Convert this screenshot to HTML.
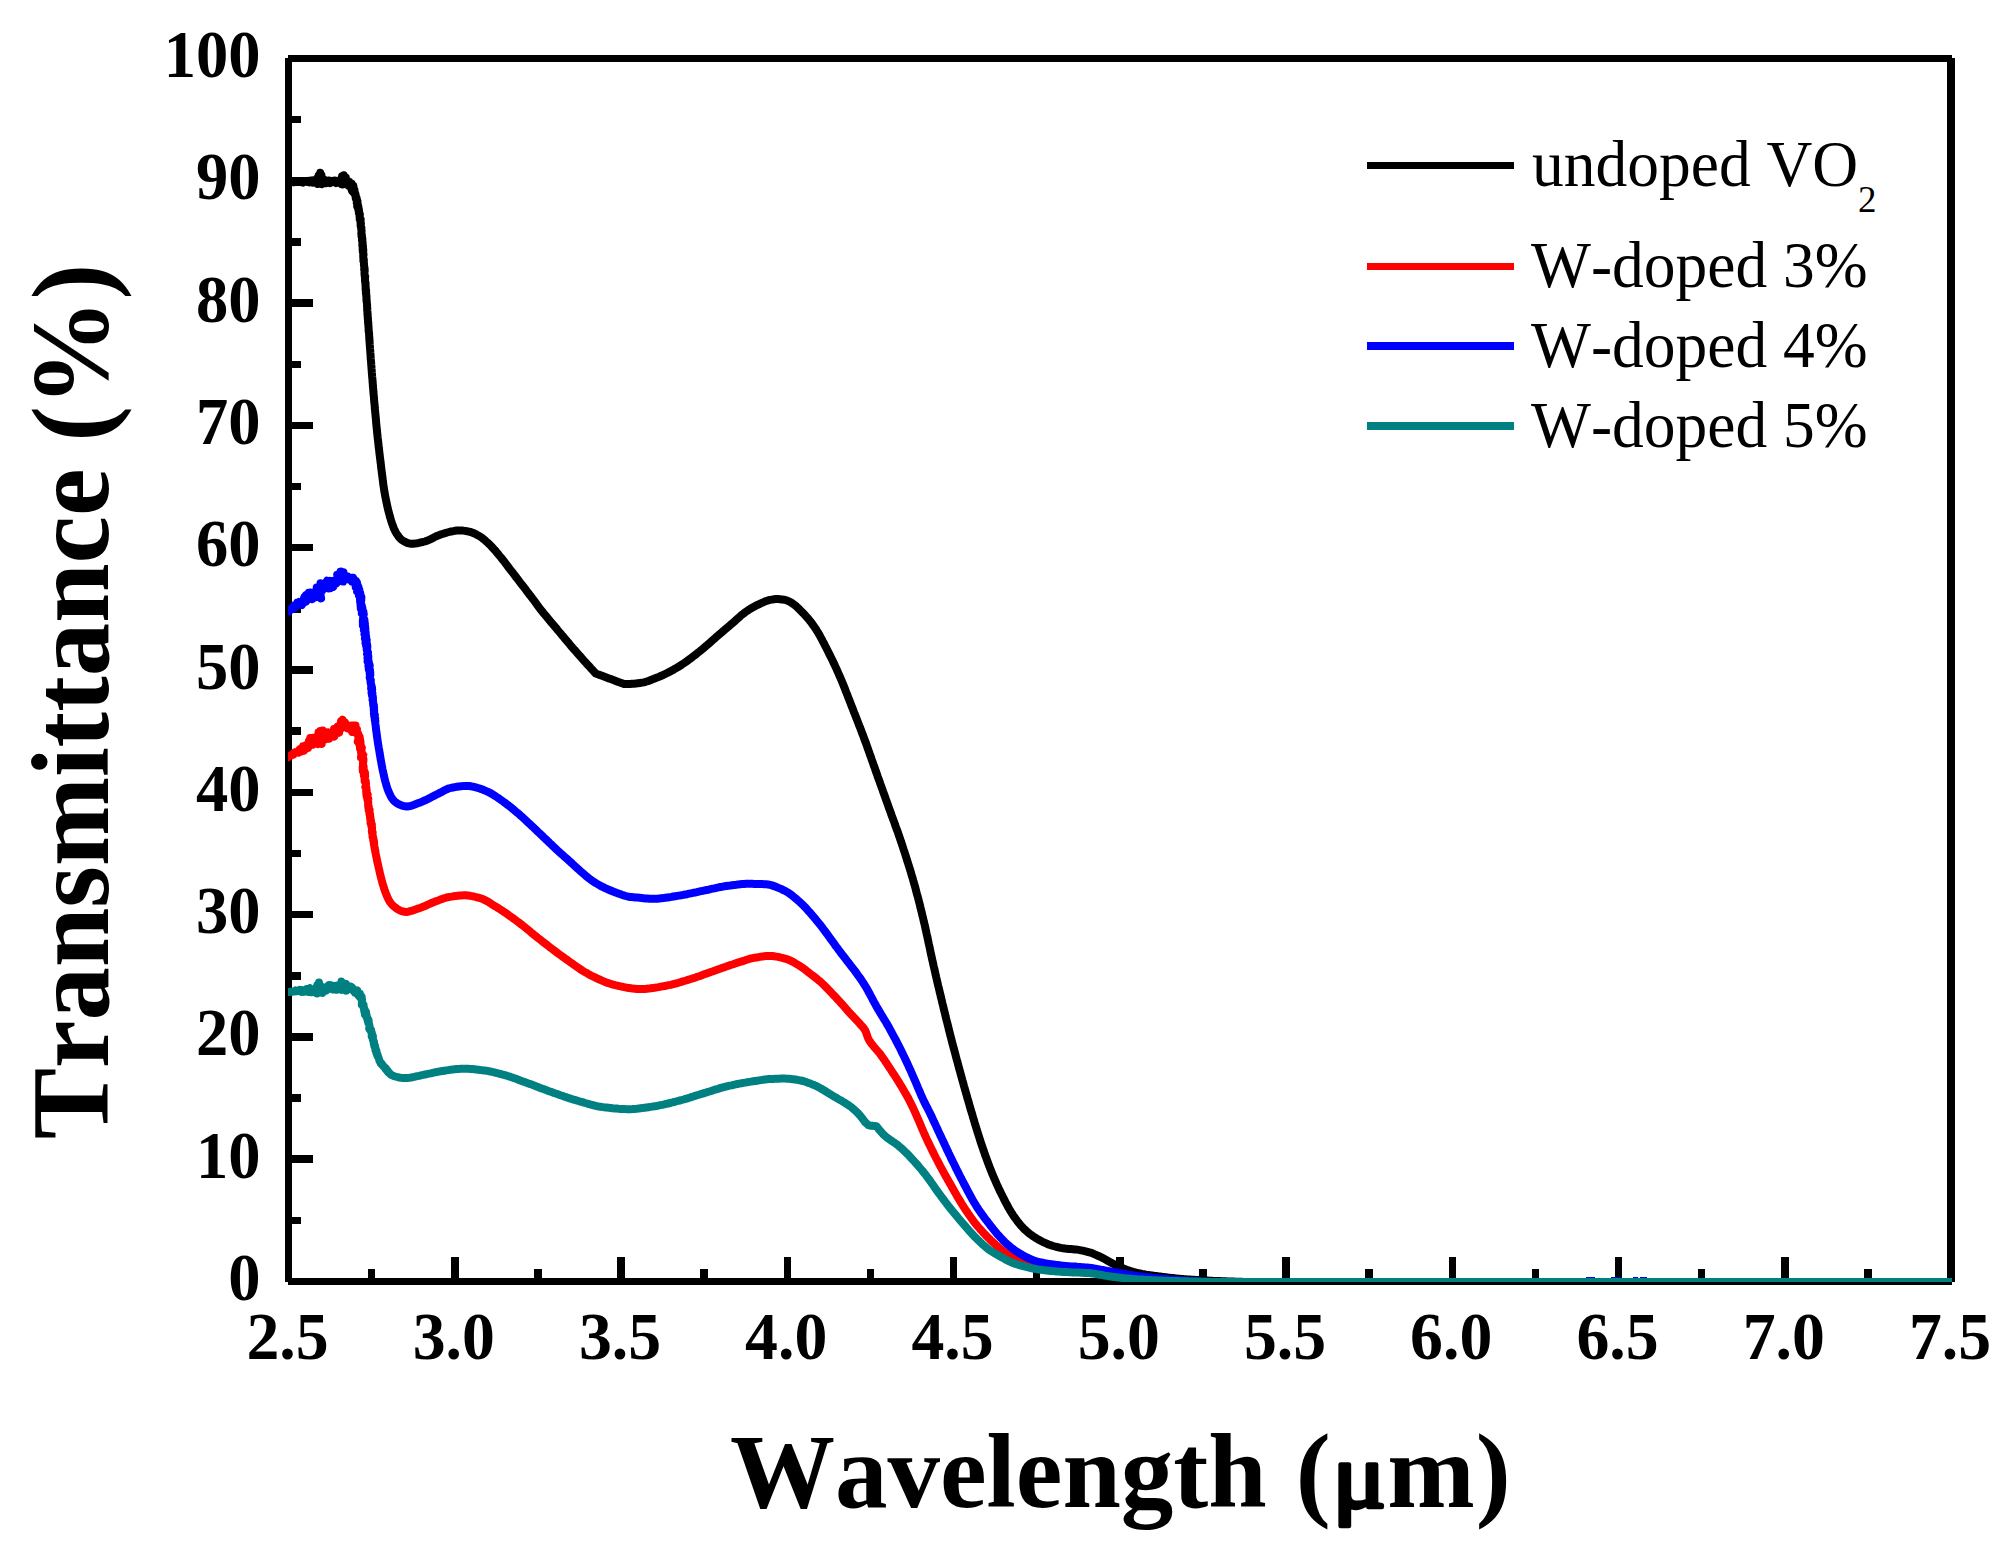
<!DOCTYPE html>
<html lang="en">
<head>
<meta charset="utf-8">
<title>Transmittance vs Wavelength</title>
<style>html,body{margin:0;padding:0;background:#fff}svg{display:block}</style>
</head>
<body>
<svg width="2013" height="1548" viewBox="0 0 2013 1548">
<defs><clipPath id="plot"><rect x="288" y="58" width="1664" height="1224"/></clipPath></defs>
<rect width="2013" height="1548" fill="#fff"/>
<g fill="#000" shape-rendering="crispEdges">
<rect x="285" y="58" width="7" height="1224"/>
<rect x="288" y="55" width="1664" height="7"/>
<rect x="1947" y="58" width="8" height="1224"/>
<rect x="288" y="1278" width="1664" height="7"/>
<rect x="367.88" y="1269" width="7.5" height="10"/>
<rect x="451.00" y="1257" width="7.5" height="22"/>
<rect x="534.12" y="1269" width="7.5" height="10"/>
<rect x="617.25" y="1257" width="7.5" height="22"/>
<rect x="700.38" y="1269" width="7.5" height="10"/>
<rect x="783.50" y="1257" width="7.5" height="22"/>
<rect x="866.62" y="1269" width="7.5" height="10"/>
<rect x="949.75" y="1257" width="7.5" height="22"/>
<rect x="1032.88" y="1269" width="7.5" height="10"/>
<rect x="1116.00" y="1257" width="7.5" height="22"/>
<rect x="1199.12" y="1269" width="7.5" height="10"/>
<rect x="1282.25" y="1257" width="7.5" height="22"/>
<rect x="1365.38" y="1269" width="7.5" height="10"/>
<rect x="1448.50" y="1257" width="7.5" height="22"/>
<rect x="1531.62" y="1269" width="7.5" height="10"/>
<rect x="1614.75" y="1257" width="7.5" height="22"/>
<rect x="1697.88" y="1269" width="7.5" height="10"/>
<rect x="1781.00" y="1257" width="7.5" height="22"/>
<rect x="1864.12" y="1269" width="7.5" height="10"/>
<rect x="291" y="1216.60" width="10" height="7.5"/>
<rect x="291" y="1155.45" width="22" height="7.5"/>
<rect x="291" y="1094.30" width="10" height="7.5"/>
<rect x="291" y="1033.15" width="22" height="7.5"/>
<rect x="291" y="972.00" width="10" height="7.5"/>
<rect x="291" y="910.85" width="22" height="7.5"/>
<rect x="291" y="849.70" width="10" height="7.5"/>
<rect x="291" y="788.55" width="22" height="7.5"/>
<rect x="291" y="727.40" width="10" height="7.5"/>
<rect x="291" y="666.25" width="22" height="7.5"/>
<rect x="291" y="605.10" width="10" height="7.5"/>
<rect x="291" y="543.95" width="22" height="7.5"/>
<rect x="291" y="482.80" width="10" height="7.5"/>
<rect x="291" y="421.65" width="22" height="7.5"/>
<rect x="291" y="360.50" width="10" height="7.5"/>
<rect x="291" y="299.35" width="22" height="7.5"/>
<rect x="291" y="238.20" width="10" height="7.5"/>
<rect x="291" y="177.05" width="22" height="7.5"/>
<rect x="291" y="115.90" width="10" height="7.5"/>
</g>
<g clip-path="url(#plot)" fill="none" stroke-width="8" stroke-linejoin="round" stroke-linecap="butt">
<path stroke="#000000" d="M287.0 181.9L287.8 182.0L288.6 182.0L289.4 181.9L290.2 181.9L291.0 182.1L291.9 181.9L292.6 181.9L293.5 182.3L294.2 182.1L295.1 181.9L295.9 182.0L296.5 182.1L297.5 181.7L298.1 181.4L299.0 182.1L299.9 181.9L300.5 181.7L301.2 182.2L302.4 181.8L303.0 182.5L303.6 181.2L304.5 181.8L305.3 181.6L306.5 181.4L307.0 181.8L308.1 181.0L308.6 182.3L309.8 182.4L310.6 180.6L311.1 181.4L312.1 180.9L312.4 180.4L313.0 182.6L314.3 181.4L314.5 180.2L315.8 182.4L316.7 178.9L317.7 184.0L318.6 175.5L318.7 182.7L320.2 172.8L320.6 183.8L321.5 175.3L322.2 184.3L323.4 179.7L323.6 181.6L324.1 179.7L325.8 180.8L326.4 183.2L327.3 181.8L327.4 182.5L328.3 180.6L329.6 180.6L330.5 183.0L331.2 182.3L332.0 181.4L332.8 181.5L333.1 180.8L334.2 181.0L334.9 180.6L336.1 183.0L336.7 181.9L337.7 180.9L338.5 182.7L339.5 180.9L340.2 180.8L340.2 180.9L341.6 184.0L342.1 176.2L342.6 184.6L343.8 175.3L345.0 182.4L345.8 177.5L345.8 182.8L346.7 182.0L348.0 184.6L349.0 183.0L348.8 185.8L349.4 181.6L350.6 187.5L351.1 184.2L351.9 190.6L351.7 183.8L352.5 190.0L353.3 185.7L353.2 191.9L353.5 186.8L353.4 190.9L354.5 189.8L354.4 192.6L354.5 193.0L355.1 195.2L355.5 193.7L355.7 196.2L355.4 195.8L355.9 197.9L355.8 198.2L356.5 197.4L356.6 198.7L356.6 198.5L356.9 199.5L356.8 201.5L357.0 202.1L356.8 202.7L357.5 201.1L357.2 202.8L357.6 203.0L357.2 206.1L357.8 204.5L358.1 205.6L358.3 206.7L358.4 206.7L358.2 209.6L358.8 209.8L358.9 209.4L359.0 211.1L358.9 210.9L358.9 213.0L359.4 212.9L359.0 213.2L359.9 214.3L359.6 216.2L359.6 217.2L359.9 217.3L359.7 218.9L360.5 219.0L360.7 219.3L360.6 220.5L360.5 221.6L360.9 223.6L360.5 222.6L360.7 223.4L360.6 225.3L360.9 227.1L361.4 227.8L361.2 228.1L361.2 227.4L361.3 229.8L361.5 230.3L361.5 229.9L361.5 231.4L361.6 231.2L361.3 233.6L361.7 234.3L361.9 235.3L361.6 236.0L361.8 235.8L362.2 237.7L361.8 237.4L361.9 238.0L362.4 239.3L362.0 240.4L362.2 240.8L362.6 242.2L362.4 243.0L362.7 243.1L362.7 244.7L362.3 245.0L362.5 246.4L363.0 246.3L362.7 248.0L362.8 248.0L363.2 249.0L362.7 249.9L363.3 250.4L363.2 250.7L363.2 252.8L362.9 252.0L363.3 253.3L363.5 254.5L363.3 254.4L363.2 255.4L363.3 257.4L363.3 258.2L363.6 258.8L363.9 260.1L363.5 260.7L363.7 260.8L363.8 262.3L363.9 262.6L364.0 264.1L364.0 264.2L363.9 264.6L364.3 266.5L364.2 267.0L364.2 267.8L364.6 268.3L364.5 269.4L364.2 269.7L364.7 270.6L364.6 270.7L364.5 272.2L364.5 273.4L364.5 274.0L364.6 275.0L364.7 275.3L364.8 276.7L365.2 276.4L365.0 278.3L364.9 278.4L365.0 278.8L365.1 280.3L365.0 280.9L365.2 281.6L365.3 283.0L365.6 282.9L365.4 284.3L365.6 284.8L365.6 285.8L365.5 286.5L365.7 286.9L365.7 288.2L365.6 289.4L365.6 289.4L366.1 290.0L365.8 290.9L366.2 292.1L366.0 293.6L365.9 293.3L366.4 295.2L366.3 295.5L366.2 295.8L366.5 296.9L366.5 297.5L366.4 298.9L366.6 299.5L366.7 300.0L366.5 300.7L366.8 302.2L366.9 302.8L366.9 303.3L367.0 304.0L367.1 305.1L367.1 306.2L367.0 306.1L367.1 307.0L367.2 308.0L367.3 308.9L367.1 309.3L367.2 310.1L367.3 311.0L367.5 312.0L367.4 313.1L367.5 313.8L367.7 314.0L367.5 314.8L367.7 316.0L367.7 317.2L367.7 318.0L368.0 318.3L367.9 319.5L368.0 320.3L368.0 320.7L368.0 321.7L368.3 322.2L368.1 322.8L368.2 324.0L368.4 324.4L368.4 325.7L368.5 326.7L368.5 327.6L368.6 328.0L368.6 328.6L368.7 330.0L368.6 330.7L368.7 331.5L368.9 332.0L369.0 332.9L369.1 333.4L369.1 334.0L369.1 334.9L369.2 336.0L369.2 336.5L369.3 337.6L369.4 338.3L369.3 339.0L369.4 340.2L369.6 340.4L369.5 341.5L369.6 342.3L369.7 344.3L369.9 346.3L370.0 348.3L370.2 350.3L370.3 352.3L370.5 354.3L370.6 356.3L370.7 358.3L370.9 360.3L371.1 362.3L371.2 364.3L371.4 366.3L371.5 368.3L371.7 370.3L371.8 372.3L372.0 374.3L372.1 376.3L372.3 378.2L372.5 380.2L372.6 382.2L372.8 384.2L372.9 386.2L373.1 388.2L373.3 390.2L373.4 392.2L373.6 394.2L373.8 396.2L374.0 398.2L374.1 400.2L374.3 402.2L374.5 404.2L374.7 406.1L374.8 408.1L375.0 410.1L375.2 412.1L375.4 414.1L375.6 416.1L375.8 418.1L376.0 420.1L376.1 422.1L376.3 424.1L376.5 426.1L376.7 428.1L376.9 430.0L377.1 432.0L377.3 434.0L377.5 436.0L377.7 438.0L378.0 440.0L378.2 442.0L378.4 444.0L378.6 446.0L378.8 447.9L379.1 449.9L379.3 451.9L379.5 453.9L379.8 455.9L380.0 457.9L380.3 459.9L380.5 461.8L380.8 463.8L381.0 465.8L381.2 467.8L381.5 469.8L381.7 471.8L382.0 473.8L382.2 475.7L382.5 477.7L382.7 479.7L383.0 481.7L383.2 483.7L383.5 485.7L383.8 487.6L384.1 489.6L384.4 491.6L384.8 493.6L385.1 495.5L385.5 497.5L385.9 499.5L386.3 501.4L386.7 503.4L387.1 505.3L387.5 507.3L388.0 509.2L388.5 511.2L389.0 513.1L389.5 515.0L390.0 517.0L390.6 518.9L391.2 520.9L391.8 522.8L392.5 524.7L393.2 526.6L393.9 528.5L394.8 530.3L395.6 532.0L396.6 533.7L397.8 535.4L399.0 537.1L400.4 538.7L401.9 540.0L403.4 541.0L405.2 541.9L407.1 542.8L409.1 543.4L411.0 543.8L413.0 543.8L415.0 543.6L417.0 543.3L418.9 542.9L420.9 542.4L422.9 542.0L424.8 541.5L426.7 540.9L428.5 540.1L430.3 539.3L432.1 538.4L433.9 537.4L435.8 536.5L437.6 535.7L439.5 535.0L441.3 534.3L443.2 533.7L445.2 533.1L447.1 532.5L449.0 532.0L451.0 531.5L452.9 531.2L454.9 530.8L456.9 530.5L458.9 530.4L460.9 530.5L462.9 530.6L464.9 530.9L466.9 531.2L468.8 531.6L470.7 532.0L472.6 532.7L474.5 533.5L476.3 534.4L478.1 535.4L479.8 536.4L481.4 537.4L483.0 538.7L484.6 539.9L486.1 541.3L487.6 542.7L489.0 544.0L490.5 545.4L491.8 546.9L493.2 548.3L494.5 549.8L495.9 551.3L497.1 552.9L498.4 554.4L499.7 556.0L501.0 557.5L502.2 559.1L503.5 560.6L504.7 562.2L505.9 563.8L507.1 565.4L508.3 567.0L509.5 568.6L510.7 570.2L512.0 571.8L513.2 573.3L514.4 574.9L515.6 576.5L516.8 578.1L518.1 579.7L519.3 581.3L520.5 582.9L521.7 584.4L522.9 586.0L524.2 587.6L525.4 589.2L526.6 590.8L527.8 592.4L529.0 594.0L530.2 595.6L531.4 597.1L532.6 598.7L533.9 600.3L535.1 601.9L536.2 603.5L537.4 605.2L538.6 606.8L539.8 608.4L541.0 609.9L542.3 611.5L543.5 613.1L544.8 614.6L546.1 616.2L547.4 617.7L548.6 619.2L549.9 620.8L551.2 622.3L552.5 623.8L553.8 625.4L555.1 626.9L556.4 628.4L557.6 630.0L558.9 631.5L560.2 633.0L561.5 634.6L562.8 636.1L564.0 637.6L565.3 639.2L566.6 640.7L567.9 642.2L569.2 643.7L570.5 645.3L571.8 646.8L573.1 648.3L574.4 649.8L575.8 651.3L577.1 652.8L578.4 654.3L579.7 655.8L581.1 657.3L582.4 658.8L583.7 660.3L585.0 661.8L586.4 663.3L587.7 664.8L589.1 666.2L590.4 667.7L591.8 669.2L593.1 670.7L594.4 672.2L595.8 673.6L597.7 674.3L599.6 674.9L601.4 675.6L603.3 676.3L605.2 677.0L607.1 677.7L608.9 678.4L610.8 679.1L612.7 679.8L614.6 680.5L616.4 681.2L618.3 681.9L620.2 682.6L622.1 683.2L624.0 683.9L625.9 684.1L627.9 684.1L630.0 684.0L632.0 683.8L634.0 683.7L636.0 683.5L637.9 683.3L639.9 683.1L641.8 682.7L643.8 682.3L645.7 681.8L647.6 681.2L649.5 680.6L651.4 679.8L653.3 679.1L655.2 678.3L657.1 677.6L658.9 676.8L660.7 676.0L662.6 675.2L664.4 674.4L666.2 673.5L668.0 672.6L669.8 671.7L671.5 670.7L673.3 669.8L675.0 668.7L676.8 667.7L678.5 666.7L680.2 665.7L681.8 664.6L683.5 663.5L685.2 662.4L686.8 661.2L688.4 660.0L690.0 658.9L691.6 657.7L693.2 656.4L694.8 655.2L696.4 654.0L698.0 652.7L699.5 651.5L701.1 650.2L702.6 649.0L704.1 647.7L705.6 646.3L707.2 645.0L708.7 643.7L710.2 642.4L711.7 641.1L713.2 639.7L714.7 638.4L716.2 637.1L717.7 635.8L719.2 634.5L720.7 633.2L722.2 631.9L723.8 630.6L725.3 629.3L726.8 628.0L728.3 626.7L729.8 625.4L731.3 624.1L732.9 622.8L734.4 621.5L735.9 620.1L737.4 618.8L738.9 617.5L740.4 616.1L741.9 614.8L743.5 613.6L745.1 612.3L746.7 611.2L748.3 610.1L750.0 609.0L751.7 608.0L753.5 607.0L755.2 606.1L757.0 605.2L758.8 604.3L760.7 603.4L762.5 602.6L764.3 601.8L766.2 601.1L768.1 600.4L770.0 599.9L772.0 599.6L774.0 599.3L776.0 599.1L778.0 599.1L780.0 599.2L782.0 599.4L783.9 599.7L785.9 600.1L787.8 600.9L789.6 601.7L791.3 602.6L792.9 603.7L794.5 604.9L796.1 606.2L797.6 607.6L799.1 609.0L800.5 610.5L801.9 611.9L803.3 613.3L804.7 614.8L806.0 616.2L807.3 617.8L808.7 619.3L809.9 620.9L811.2 622.4L812.4 624.1L813.5 625.7L814.7 627.3L815.8 628.9L816.8 630.6L817.9 632.3L818.9 634.1L819.9 635.8L820.8 637.5L821.8 639.3L822.7 641.1L823.7 642.9L824.6 644.7L825.5 646.5L826.4 648.2L827.3 650.0L828.2 651.8L829.1 653.6L830.0 655.4L830.9 657.2L831.8 659.0L832.7 660.8L833.5 662.6L834.4 664.4L835.2 666.2L836.1 668.0L836.9 669.8L837.7 671.7L838.5 673.5L839.3 675.3L840.1 677.1L840.9 679.0L841.7 680.8L842.4 682.7L843.2 684.5L843.9 686.4L844.7 688.2L845.4 690.1L846.1 692.0L846.9 693.8L847.6 695.7L848.3 697.6L849.0 699.4L849.8 701.3L850.5 703.2L851.2 705.0L851.9 706.9L852.7 708.7L853.4 710.6L854.1 712.5L854.9 714.3L855.6 716.2L856.3 718.1L857.1 719.9L857.8 721.8L858.5 723.6L859.2 725.5L860.0 727.4L860.7 729.2L861.4 731.1L862.1 733.0L862.8 734.8L863.5 736.7L864.2 738.6L864.9 740.5L865.6 742.3L866.3 744.2L867.0 746.1L867.6 748.0L868.3 749.9L869.0 751.8L869.6 753.6L870.3 755.5L871.0 757.4L871.6 759.3L872.3 761.2L873.0 763.1L873.6 765.0L874.3 766.8L875.0 768.7L875.6 770.6L876.3 772.5L877.0 774.4L877.6 776.3L878.3 778.2L879.0 780.0L879.7 781.9L880.3 783.8L881.0 785.7L881.7 787.6L882.4 789.4L883.0 791.3L883.7 793.2L884.4 795.1L885.1 797.0L885.7 798.9L886.4 800.7L887.1 802.6L887.8 804.5L888.4 806.4L889.1 808.3L889.8 810.2L890.5 812.0L891.1 813.9L891.8 815.8L892.5 817.7L893.2 819.6L893.9 821.4L894.6 823.3L895.2 825.2L895.9 827.1L896.6 829.0L897.3 830.8L898.0 832.7L898.6 834.6L899.3 836.5L899.9 838.4L900.6 840.3L901.2 842.2L901.9 844.1L902.5 846.0L903.1 847.9L903.7 849.8L904.4 851.7L905.0 853.6L905.6 855.5L906.2 857.4L906.8 859.3L907.4 861.2L908.0 863.1L908.6 865.0L909.2 866.9L909.8 868.8L910.4 870.7L911.0 872.7L911.5 874.6L912.1 876.5L912.7 878.4L913.2 880.3L913.8 882.3L914.3 884.2L914.9 886.1L915.4 888.0L915.9 890.0L916.4 891.9L916.9 893.8L917.5 895.8L918.0 897.7L918.5 899.6L919.0 901.6L919.5 903.5L920.0 905.4L920.4 907.4L920.9 909.3L921.4 911.3L921.9 913.2L922.3 915.2L922.8 917.1L923.3 919.1L923.7 921.0L924.2 922.9L924.7 924.9L925.1 926.8L925.5 928.8L926.0 930.7L926.4 932.7L926.8 934.6L927.3 936.6L927.7 938.6L928.1 940.5L928.5 942.5L928.9 944.4L929.4 946.4L929.8 948.3L930.2 950.3L930.6 952.3L931.0 954.2L931.5 956.2L931.9 958.1L932.3 960.1L932.8 962.0L933.2 964.0L933.6 965.9L934.1 967.9L934.5 969.8L935.0 971.8L935.4 973.7L935.9 975.7L936.3 977.6L936.8 979.6L937.2 981.5L937.7 983.5L938.1 985.4L938.6 987.4L939.1 989.3L939.5 991.2L940.0 993.2L940.5 995.1L940.9 997.1L941.4 999.0L941.9 1001.0L942.3 1002.9L942.8 1004.9L943.3 1006.8L943.7 1008.7L944.2 1010.7L944.7 1012.6L945.2 1014.6L945.6 1016.5L946.1 1018.5L946.6 1020.4L947.1 1022.3L947.6 1024.3L948.1 1026.2L948.6 1028.2L949.0 1030.1L949.5 1032.0L950.0 1034.0L950.5 1035.9L951.0 1037.8L951.5 1039.8L952.0 1041.7L952.5 1043.7L953.0 1045.6L953.5 1047.5L954.1 1049.5L954.6 1051.4L955.1 1053.3L955.6 1055.3L956.1 1057.2L956.6 1059.1L957.2 1061.1L957.7 1063.0L958.2 1064.9L958.7 1066.8L959.2 1068.8L959.8 1070.7L960.3 1072.6L960.8 1074.6L961.4 1076.5L961.9 1078.4L962.4 1080.3L963.0 1082.3L963.5 1084.2L964.0 1086.1L964.6 1088.0L965.1 1090.0L965.7 1091.9L966.2 1093.8L966.8 1095.7L967.3 1097.7L967.9 1099.6L968.4 1101.5L969.0 1103.4L969.5 1105.4L970.1 1107.3L970.6 1109.2L971.2 1111.1L971.8 1113.0L972.4 1114.9L972.9 1116.9L973.5 1118.8L974.1 1120.7L974.6 1122.6L975.2 1124.5L975.8 1126.4L976.4 1128.4L977.0 1130.3L977.6 1132.2L978.2 1134.1L978.8 1136.0L979.4 1137.9L980.0 1139.8L980.6 1141.7L981.2 1143.6L981.9 1145.5L982.5 1147.4L983.2 1149.3L983.8 1151.2L984.5 1153.1L985.1 1155.0L985.8 1156.8L986.5 1158.7L987.2 1160.6L987.9 1162.5L988.6 1164.4L989.3 1166.2L990.0 1168.1L990.7 1169.9L991.5 1171.8L992.2 1173.6L993.0 1175.5L993.8 1177.3L994.6 1179.2L995.4 1181.0L996.2 1182.8L997.0 1184.7L997.8 1186.5L998.7 1188.3L999.5 1190.1L1000.4 1191.9L1001.3 1193.7L1002.2 1195.5L1003.1 1197.3L1004.0 1199.1L1004.9 1200.9L1005.8 1202.7L1006.8 1204.4L1007.7 1206.2L1008.7 1208.0L1009.7 1209.7L1010.7 1211.4L1011.8 1213.1L1012.8 1214.8L1013.9 1216.4L1015.1 1218.0L1016.3 1219.7L1017.5 1221.3L1018.7 1222.9L1020.0 1224.4L1021.3 1226.0L1022.7 1227.4L1024.1 1228.9L1025.5 1230.3L1027.0 1231.6L1028.5 1232.8L1030.1 1234.1L1031.7 1235.3L1033.3 1236.4L1035.0 1237.5L1036.8 1238.6L1038.5 1239.6L1040.2 1240.5L1042.0 1241.5L1043.8 1242.4L1045.6 1243.2L1047.5 1244.0L1049.3 1244.8L1051.2 1245.4L1053.1 1246.0L1055.0 1246.5L1057.0 1247.0L1058.9 1247.5L1060.9 1247.9L1062.9 1248.2L1064.8 1248.5L1066.8 1248.7L1068.8 1248.9L1070.8 1249.0L1072.8 1249.2L1074.8 1249.4L1076.8 1249.6L1078.8 1249.9L1080.8 1250.3L1082.7 1250.7L1084.7 1251.1L1086.6 1251.6L1088.5 1252.1L1090.4 1252.6L1092.3 1253.3L1094.2 1254.1L1096.0 1254.9L1097.9 1255.7L1099.7 1256.5L1101.5 1257.4L1103.3 1258.3L1105.0 1259.2L1106.8 1260.2L1108.5 1261.2L1110.3 1262.2L1112.0 1263.2L1113.8 1264.1L1115.6 1264.9L1117.4 1265.8L1119.2 1266.7L1121.0 1267.5L1122.9 1268.3L1124.7 1269.1L1126.6 1269.8L1128.5 1270.4L1130.4 1271.0L1132.3 1271.6L1134.2 1272.2L1136.2 1272.7L1138.1 1273.1L1140.1 1273.5L1142.0 1273.9L1144.0 1274.2L1146.0 1274.6L1147.9 1274.9L1149.9 1275.2L1151.9 1275.5L1153.9 1275.8L1155.9 1276.0L1157.9 1276.3L1159.8 1276.5L1161.8 1276.8L1163.8 1277.0L1165.8 1277.2L1167.8 1277.5L1169.8 1277.7L1171.8 1277.9L1173.8 1278.1L1175.7 1278.4L1177.7 1278.6L1179.7 1278.7L1181.7 1278.9L1183.7 1279.1L1185.7 1279.2L1187.7 1279.4L1189.7 1279.5L1191.7 1279.7L1193.7 1279.8L1195.7 1279.9L1197.7 1280.0L1199.7 1280.2L1201.7 1280.3L1203.7 1280.4L1205.7 1280.5L1207.7 1280.6L1209.7 1280.7L1211.7 1280.8L1213.7 1280.9L1215.7 1281.0L1217.7 1281.0L1219.7 1281.1L1221.7 1281.2L1223.7 1281.3L1225.7 1281.3L1227.7 1281.4L1229.6 1281.5L1231.6 1281.5L1233.6 1281.6L1235.6 1281.7L1237.6 1281.7L1239.6 1281.8L1241.6 1281.8L1243.6 1281.9L1245.6 1282.0L1247.6 1282.0L1249.6 1282.1L1251.6 1282.2L1253.6 1282.2L1255.6 1282.3L1257.6 1282.3L1259.6 1282.4L1261.6 1282.4L1263.6 1282.5L1265.6 1282.5L1267.6 1282.6L1269.6 1282.6L1271.6 1282.7L1273.6 1282.7L1275.6 1282.8L1277.6 1282.8L1279.6 1282.8L1281.6 1282.9L1283.6 1282.9L1285.6 1282.9L1287.6 1282.9L1289.6 1283.0L1291.6 1283.0L1293.6 1283.0L1295.6 1283.0L1297.6 1283.0L1299.6 1283.0L1301.6 1283.0L1303.6 1283.0L1305.6 1283.0L1307.6 1283.0L1309.6 1283.0L1311.6 1283.0L1313.6 1283.0L1315.6 1283.0L1317.6 1283.0L1319.6 1283.0L1321.6 1283.0L1323.6 1283.0L1325.6 1283.0L1327.6 1283.0L1329.6 1283.0L1331.6 1283.0L1333.6 1283.0L1335.6 1283.0L1337.6 1283.0L1339.6 1283.0L1341.6 1283.0L1343.6 1283.0L1345.6 1283.0L1347.6 1283.0L1349.6 1283.0L1351.6 1283.0L1353.6 1283.0L1355.6 1283.0L1357.6 1283.0L1359.6 1283.0L1361.6 1283.0L1363.6 1283.0L1365.6 1283.0L1367.6 1283.0L1369.6 1283.0L1371.6 1283.0L1373.6 1283.0L1375.6 1283.0L1377.6 1283.0L1379.6 1283.0L1381.6 1283.0L1383.6 1283.0L1385.6 1283.0L1387.6 1283.0L1389.6 1283.0L1391.6 1283.0L1393.6 1283.0L1395.6 1283.0L1397.6 1283.0L1399.6 1283.0L1401.6 1283.0L1403.6 1283.0L1405.6 1283.0L1407.6 1283.0L1409.6 1283.0L1411.6 1283.0L1413.6 1283.0L1415.6 1283.0L1417.6 1283.0L1419.6 1283.0L1421.6 1283.0L1423.6 1283.0L1425.6 1283.0L1427.6 1283.0L1429.6 1283.0L1431.6 1283.0L1433.6 1283.0L1435.6 1283.0L1437.6 1283.0L1439.6 1283.0L1441.6 1283.0L1443.6 1283.0L1445.6 1283.0L1447.6 1283.0L1449.6 1283.0L1451.6 1283.0L1453.6 1283.0L1455.6 1283.0L1457.6 1283.0L1459.6 1283.0L1461.6 1283.0L1463.6 1283.0L1465.6 1283.0L1467.6 1283.0L1469.6 1283.0L1471.6 1283.0L1473.6 1283.0L1475.6 1283.0L1477.6 1283.0L1479.6 1283.0L1481.6 1283.0L1483.6 1283.0L1485.6 1283.0L1487.6 1283.0L1489.6 1283.0L1491.6 1283.0L1493.6 1283.0L1495.6 1283.0L1497.6 1283.0L1499.6 1283.0L1501.6 1283.0L1503.6 1283.0L1505.6 1283.0L1507.6 1283.0L1509.6 1283.0L1511.6 1283.0L1513.6 1283.0L1515.6 1283.0L1517.6 1283.0L1519.6 1283.0L1521.6 1283.0L1523.6 1283.0L1525.6 1283.0L1527.6 1283.0L1529.6 1283.0L1531.6 1283.0L1533.6 1283.0L1535.6 1283.0L1537.6 1283.0L1539.6 1283.0L1541.6 1283.0L1543.6 1283.0L1545.6 1283.0L1547.6 1283.0L1549.6 1283.0L1551.6 1283.0L1553.6 1283.0L1555.6 1283.0L1557.6 1283.0L1559.6 1283.0L1561.6 1283.0L1563.6 1283.0L1565.6 1283.0L1567.6 1283.0L1569.6 1283.0L1571.6 1283.0L1573.6 1283.0L1575.6 1283.0L1577.6 1283.0L1579.6 1283.0L1581.6 1283.0L1583.6 1283.0L1585.6 1283.0L1587.6 1283.0L1589.6 1283.0L1591.6 1283.0L1593.6 1283.0L1595.6 1283.0L1597.6 1283.0L1599.6 1283.0L1601.6 1283.0L1603.6 1283.0L1605.6 1283.0L1607.6 1283.0L1609.6 1283.0L1611.6 1283.0L1613.6 1283.0L1615.6 1283.0L1617.6 1283.0L1619.6 1283.0L1621.6 1283.0L1623.6 1283.0L1625.6 1283.0L1627.6 1283.0L1629.6 1283.0L1631.6 1283.0L1633.6 1283.0L1635.6 1283.0L1637.6 1283.0L1639.6 1283.0L1641.6 1283.0L1643.6 1283.0L1645.6 1283.0L1647.6 1283.0L1649.6 1283.0L1651.6 1283.0L1653.6 1283.0L1655.6 1283.0L1657.6 1283.0L1659.6 1283.0L1661.6 1283.0L1663.6 1283.0L1665.6 1283.0L1667.6 1283.0L1669.6 1283.0L1671.6 1283.0L1673.6 1283.0L1675.6 1283.0L1677.6 1283.0L1679.6 1283.0L1681.6 1283.0L1683.6 1283.0L1685.6 1283.0L1687.6 1283.0L1689.6 1283.0L1691.6 1283.0L1693.6 1283.0L1695.6 1283.0L1697.6 1283.0L1699.6 1283.0L1701.6 1283.0L1703.6 1283.0L1705.6 1283.0L1707.6 1283.0L1709.6 1283.0L1711.6 1283.0L1713.6 1283.0L1715.6 1283.0L1717.6 1283.0L1719.6 1283.0L1721.6 1283.0L1723.6 1283.0L1725.6 1283.0L1727.6 1283.0L1729.6 1283.0L1731.6 1283.0L1733.6 1283.0L1735.6 1283.0L1737.6 1283.0L1739.6 1283.0L1741.6 1283.0L1743.6 1283.0L1745.6 1283.0L1747.6 1283.0L1749.6 1283.0L1751.6 1283.0L1753.6 1283.0L1755.6 1283.0L1757.6 1283.0L1759.6 1283.0L1761.6 1283.0L1763.6 1283.0L1765.6 1283.0L1767.6 1283.0L1769.6 1283.0L1771.6 1283.0L1773.6 1283.0L1775.6 1283.0L1777.6 1283.0L1779.6 1283.0L1781.6 1283.0L1783.6 1283.0L1785.6 1283.0L1787.6 1283.0L1789.6 1283.0L1791.6 1283.0L1793.6 1283.0L1795.6 1283.0L1797.6 1283.0L1799.6 1283.0L1801.6 1283.0L1803.6 1283.0L1805.6 1283.0L1807.6 1283.0L1809.6 1283.0L1811.6 1283.0L1813.6 1283.0L1815.6 1283.0L1817.6 1283.0L1819.6 1283.0L1821.6 1283.0L1823.6 1283.0L1825.6 1283.0L1827.6 1283.0L1829.6 1283.0L1831.6 1283.0L1833.6 1283.0L1835.6 1283.0L1837.6 1283.0L1839.6 1283.0L1841.6 1283.0L1843.6 1283.0L1845.6 1283.0L1847.6 1283.0L1849.6 1283.0L1851.6 1283.0L1853.6 1283.0L1855.6 1283.0L1857.6 1283.0L1859.6 1283.0L1861.6 1283.0L1863.6 1283.0L1865.6 1283.0L1867.6 1283.0L1869.6 1283.0L1871.6 1283.0L1873.6 1283.0L1875.6 1283.0L1877.6 1283.0L1879.6 1283.0L1881.6 1283.0L1883.6 1283.0L1885.6 1283.0L1887.6 1283.0L1889.6 1283.0L1891.6 1283.0L1893.6 1283.0L1895.6 1283.0L1897.6 1283.0L1899.6 1283.0L1901.6 1283.0L1903.6 1283.0L1905.6 1283.0L1907.6 1283.0L1909.6 1283.0L1911.6 1283.0L1913.6 1283.0L1915.6 1283.0L1917.6 1283.0L1919.6 1283.0L1921.6 1283.0L1923.6 1283.0L1925.6 1283.0L1927.6 1283.0L1929.6 1283.0L1931.6 1283.0L1933.6 1283.0L1935.6 1283.0L1937.6 1283.0L1939.6 1283.0L1941.6 1283.0L1943.6 1283.0L1945.6 1283.0L1947.6 1283.0L1949.6 1283.0L1951.6 1283.0L1952.0 1283.0"/>
<path stroke="#ff0000" d="M287.0 757.5L287.6 757.6L288.5 756.6L289.2 756.2L289.9 756.0L290.6 755.5L291.2 755.5L292.0 754.5L292.7 755.0L293.3 754.7L293.9 752.8L294.5 753.4L295.6 752.1L295.7 752.0L296.7 752.0L297.2 751.8L298.1 751.4L298.7 752.7L299.2 749.9L299.7 749.2L301.5 750.8L301.0 751.7L301.9 751.3L302.2 750.8L303.0 746.2L304.3 750.6L304.5 748.6L304.9 749.6L307.0 746.4L306.8 744.7L308.0 748.1L308.4 746.6L308.6 746.8L310.6 741.8L309.0 740.5L310.8 744.7L310.3 738.1L313.0 744.7L313.1 737.7L314.2 740.7L315.4 739.3L316.2 737.0L316.7 737.3L316.9 738.3L318.0 744.1L318.5 734.9L318.9 742.9L318.5 732.6L319.8 742.8L320.2 731.1L321.7 744.0L322.6 730.5L321.9 735.9L322.9 737.6L324.1 739.9L323.4 734.9L326.1 738.1L325.3 737.4L326.3 739.1L327.8 732.2L329.0 738.7L328.7 735.2L330.1 734.5L330.0 736.1L330.4 735.2L332.0 733.4L332.6 731.9L334.2 736.6L333.1 735.3L334.0 729.0L334.7 730.7L336.6 732.8L337.3 733.0L339.1 732.7L337.8 726.4L339.8 730.1L340.5 729.1L341.0 721.3L340.4 725.1L342.6 719.6L343.2 724.5L343.7 721.7L343.7 726.5L345.0 722.3L345.5 724.2L347.3 726.8L348.5 728.6L347.5 728.5L350.0 728.3L348.8 727.4L349.5 725.9L352.1 731.9L351.4 725.6L351.7 728.7L352.8 725.6L355.5 725.6L353.6 730.4L354.8 732.1L356.8 729.1L354.6 732.4L357.3 733.6L355.7 731.8L357.4 734.5L355.9 731.5L356.2 731.3L357.3 732.6L357.3 732.1L358.1 733.5L358.6 739.6L357.7 741.7L359.4 736.1L360.5 742.0L360.1 743.2L360.1 743.4L360.0 742.9L359.1 743.7L359.8 746.0L360.6 743.7L360.0 748.2L360.3 745.1L360.4 744.9L361.5 751.9L361.2 746.8L360.3 748.2L361.9 748.0L361.3 748.4L360.7 749.9L361.6 755.9L362.4 755.0L361.9 753.7L361.7 751.6L361.0 757.4L362.0 755.7L363.1 758.6L361.4 756.9L363.2 754.9L362.0 755.9L363.1 761.4L363.4 759.0L363.5 759.7L363.2 762.3L363.1 762.5L362.9 763.7L363.6 767.5L363.5 766.2L363.7 769.8L363.0 765.4L362.7 767.1L362.8 771.0L363.0 769.1L363.6 771.6L364.1 770.8L364.6 771.6L363.9 775.2L365.0 773.2L363.9 775.4L365.2 776.5L365.0 774.8L364.2 776.0L364.4 777.4L364.6 777.0L364.6 781.0L365.8 781.2L364.7 780.8L365.2 781.9L365.0 780.8L365.8 783.2L366.1 785.8L365.9 782.8L365.8 786.2L365.3 787.0L365.9 785.6L365.5 786.6L366.3 786.8L366.5 789.3L366.5 789.3L366.4 789.1L366.7 790.6L366.1 791.2L366.5 795.1L367.6 794.3L366.6 794.7L366.5 795.6L367.4 796.8L367.5 799.2L367.1 797.8L367.7 797.4L368.3 798.8L368.3 799.0L367.6 800.5L368.3 802.7L368.3 802.3L368.1 805.2L368.7 806.3L368.1 804.3L368.3 807.4L368.6 807.7L369.2 809.5L368.8 807.6L368.7 810.2L369.5 809.6L369.0 809.9L369.2 810.9L370.0 813.8L369.8 813.2L369.4 813.9L370.1 816.1L370.0 816.9L370.1 817.9L370.2 816.1L370.7 819.8L370.3 819.7L371.1 821.2L371.0 821.7L370.5 822.8L371.3 823.6L371.3 823.7L371.1 823.1L371.2 825.4L371.9 824.4L371.6 826.0L371.5 826.6L372.1 827.4L372.0 829.4L371.9 830.3L372.3 831.1L371.8 831.1L371.9 832.2L372.4 831.4L372.7 832.6L372.4 834.4L372.4 834.3L372.6 835.2L372.5 836.6L372.8 836.1L373.4 838.4L373.5 838.9L373.3 838.2L373.2 839.8L373.5 841.7L374.0 841.1L374.0 841.4L374.1 842.6L373.9 844.2L374.2 844.1L374.2 844.8L374.3 845.8L374.5 848.0L374.9 849.1L374.7 848.1L375.0 849.7L375.3 850.7L375.0 850.2L375.3 851.7L375.7 853.7L376.1 855.7L376.5 857.6L376.9 859.6L377.3 861.6L377.7 863.5L378.2 865.5L378.6 867.4L379.1 869.4L379.5 871.3L379.9 873.3L380.4 875.2L380.9 877.2L381.4 879.1L381.9 881.1L382.4 883.0L383.0 884.9L383.6 886.8L384.2 888.7L384.8 890.6L385.5 892.5L386.3 894.5L387.1 896.5L388.0 898.4L388.9 900.2L389.9 901.9L391.0 903.4L392.1 904.8L393.5 906.0L395.1 907.3L396.8 908.6L398.7 909.7L400.6 910.7L402.6 911.4L404.5 911.8L406.4 911.9L408.3 911.7L410.2 911.2L412.2 910.7L414.1 910.0L416.1 909.3L418.0 908.6L419.9 908.0L421.8 907.3L423.6 906.6L425.5 905.8L427.3 904.9L429.1 904.1L431.0 903.3L432.8 902.5L434.7 901.8L436.5 901.1L438.4 900.4L440.3 899.6L442.2 898.9L444.1 898.3L446.0 897.7L447.9 897.2L449.9 896.9L451.8 896.6L453.8 896.2L455.8 895.9L457.8 895.7L459.8 895.5L461.8 895.4L463.8 895.3L465.8 895.3L467.8 895.5L469.8 895.8L471.8 896.1L473.8 896.5L475.7 897.0L477.7 897.5L479.5 897.9L481.4 898.6L483.2 899.3L485.0 900.2L486.8 901.1L488.6 902.1L490.3 903.2L492.0 904.3L493.7 905.4L495.5 906.4L497.2 907.5L498.9 908.5L500.6 909.6L502.2 910.7L503.9 911.8L505.6 912.9L507.2 914.0L508.8 915.2L510.5 916.4L512.1 917.5L513.7 918.7L515.3 919.9L516.9 921.1L518.5 922.3L520.1 923.5L521.7 924.7L523.3 926.0L524.8 927.2L526.4 928.5L527.9 929.7L529.5 931.0L531.0 932.3L532.6 933.6L534.1 934.8L535.7 936.1L537.2 937.4L538.8 938.6L540.4 939.8L541.9 941.1L543.5 942.3L545.1 943.5L546.7 944.7L548.3 946.0L549.8 947.2L551.4 948.4L553.0 949.6L554.6 950.8L556.2 952.0L557.8 953.2L559.4 954.4L561.0 955.6L562.7 956.8L564.3 957.9L565.9 959.1L567.6 960.2L569.2 961.4L570.8 962.6L572.5 963.7L574.1 964.9L575.8 966.1L577.4 967.2L579.1 968.3L580.7 969.5L582.4 970.5L584.1 971.6L585.8 972.6L587.6 973.6L589.3 974.6L591.0 975.5L592.8 976.4L594.6 977.2L596.4 978.1L598.2 979.0L600.1 979.8L601.9 980.6L603.8 981.4L605.7 982.2L607.6 982.9L609.5 983.5L611.4 984.1L613.3 984.7L615.2 985.2L617.1 985.6L619.1 986.0L621.0 986.5L623.0 986.9L624.9 987.3L626.9 987.7L628.9 988.0L630.9 988.3L632.9 988.6L634.9 988.8L636.9 989.0L638.9 989.1L640.9 989.1L642.9 989.1L644.8 989.0L646.8 988.8L648.8 988.6L650.8 988.3L652.8 988.1L654.8 987.7L656.8 987.4L658.8 987.1L660.7 986.7L662.7 986.3L664.7 986.0L666.6 985.6L668.6 985.2L670.5 984.8L672.5 984.3L674.4 983.8L676.4 983.3L678.3 982.8L680.2 982.2L682.1 981.6L684.1 981.0L686.0 980.5L687.9 979.9L689.8 979.3L691.7 978.7L693.6 978.1L695.5 977.5L697.4 976.8L699.3 976.2L701.2 975.5L703.1 974.8L704.9 974.1L706.8 973.4L708.7 972.7L710.6 972.1L712.5 971.4L714.4 970.7L716.2 970.1L718.1 969.4L720.0 968.8L721.9 968.1L723.8 967.4L725.7 966.8L727.6 966.1L729.5 965.4L731.4 964.8L733.2 964.2L735.1 963.5L737.0 962.9L738.9 962.3L740.9 961.7L742.8 961.1L744.7 960.5L746.6 959.8L748.5 959.2L750.4 958.7L752.4 958.2L754.3 957.8L756.3 957.5L758.2 957.2L760.2 956.8L762.2 956.6L764.2 956.3L766.2 956.1L768.2 956.0L770.2 956.0L772.2 956.1L774.2 956.3L776.2 956.6L778.2 956.9L780.2 957.4L782.1 957.8L784.0 958.3L785.9 958.8L787.8 959.5L789.6 960.2L791.4 961.1L793.2 962.1L795.0 963.1L796.7 964.1L798.5 965.2L800.2 966.2L801.8 967.3L803.5 968.4L805.1 969.6L806.6 970.9L808.2 972.1L809.8 973.4L811.4 974.6L813.0 975.8L814.6 977.0L816.2 978.2L817.7 979.5L819.3 980.8L820.8 982.1L822.2 983.4L823.7 984.8L825.1 986.2L826.5 987.7L827.9 989.1L829.3 990.5L830.7 992.0L832.0 993.4L833.4 994.9L834.8 996.3L836.2 997.8L837.5 999.2L838.9 1000.7L840.2 1002.2L841.6 1003.7L842.9 1005.2L844.2 1006.7L845.5 1008.2L846.8 1009.7L848.1 1011.2L849.5 1012.7L850.8 1014.2L852.2 1015.6L853.6 1017.1L855.0 1018.5L856.4 1020.0L857.7 1021.4L859.1 1022.9L860.4 1024.4L861.8 1025.9L863.1 1027.4L864.3 1029.0L865.3 1030.6L866.1 1032.5L866.7 1034.4L867.4 1036.3L868.1 1038.2L869.0 1040.0L870.0 1041.6L871.2 1043.3L872.5 1044.8L873.7 1046.4L875.0 1048.0L876.3 1049.5L877.6 1051.0L878.9 1052.5L880.2 1054.1L881.3 1055.7L882.5 1057.3L883.7 1059.0L884.8 1060.6L885.9 1062.3L887.0 1063.9L888.1 1065.6L889.2 1067.3L890.3 1068.9L891.4 1070.6L892.5 1072.3L893.6 1074.0L894.7 1075.6L895.8 1077.3L896.9 1079.0L897.9 1080.7L899.0 1082.4L900.0 1084.1L901.1 1085.8L902.1 1087.5L903.1 1089.3L904.1 1091.0L905.1 1092.7L906.1 1094.4L907.1 1096.2L908.1 1097.9L909.0 1099.7L909.9 1101.5L910.8 1103.3L911.7 1105.1L912.6 1106.9L913.4 1108.7L914.3 1110.5L915.1 1112.3L915.9 1114.1L916.7 1116.0L917.5 1117.8L918.3 1119.6L919.1 1121.5L919.9 1123.3L920.7 1125.2L921.4 1127.0L922.2 1128.8L923.0 1130.7L923.8 1132.5L924.6 1134.4L925.4 1136.2L926.2 1138.0L927.1 1139.8L927.9 1141.6L928.8 1143.4L929.7 1145.2L930.5 1147.0L931.4 1148.8L932.3 1150.6L933.2 1152.4L934.1 1154.2L935.0 1156.0L935.9 1157.8L936.8 1159.5L937.8 1161.3L938.7 1163.1L939.6 1164.9L940.5 1166.6L941.5 1168.4L942.4 1170.1L943.4 1171.9L944.4 1173.7L945.3 1175.4L946.3 1177.1L947.3 1178.9L948.3 1180.6L949.3 1182.4L950.3 1184.1L951.3 1185.8L952.2 1187.6L953.2 1189.3L954.2 1191.1L955.2 1192.8L956.2 1194.5L957.2 1196.3L958.2 1198.0L959.3 1199.7L960.3 1201.4L961.3 1203.1L962.4 1204.8L963.5 1206.5L964.5 1208.2L965.6 1209.9L966.8 1211.5L967.9 1213.2L969.0 1214.8L970.2 1216.5L971.3 1218.1L972.5 1219.7L973.7 1221.3L974.9 1222.9L976.2 1224.5L977.4 1226.0L978.7 1227.5L980.0 1229.0L981.4 1230.5L982.7 1232.0L984.1 1233.5L985.5 1234.9L986.9 1236.4L988.3 1237.8L989.7 1239.2L991.1 1240.6L992.6 1242.0L994.0 1243.3L995.5 1244.7L997.0 1246.0L998.5 1247.3L1000.1 1248.6L1001.6 1249.8L1003.2 1251.1L1004.8 1252.3L1006.4 1253.6L1008.0 1254.8L1009.7 1255.9L1011.4 1257.0L1013.1 1257.9L1014.8 1258.8L1016.6 1259.7L1018.5 1260.5L1020.4 1261.2L1022.2 1261.9L1024.2 1262.6L1026.1 1263.2L1028.0 1263.7L1029.9 1264.3L1031.8 1264.8L1033.7 1265.3L1035.7 1265.8L1037.7 1266.2L1039.6 1266.7L1041.6 1267.1L1043.6 1267.5L1045.5 1267.8L1047.5 1268.1L1049.5 1268.4L1051.4 1268.7L1053.4 1268.9L1055.4 1269.2L1057.4 1269.4L1059.4 1269.6L1061.4 1269.7L1063.4 1269.9L1065.4 1270.1L1067.4 1270.2L1069.3 1270.4L1071.3 1270.6L1073.3 1270.7L1075.3 1270.9L1077.3 1271.0L1079.3 1271.2L1081.3 1271.4L1083.3 1271.5L1085.3 1271.7L1087.3 1271.9L1089.3 1272.1L1091.3 1272.4L1093.3 1272.6L1095.3 1272.9L1097.2 1273.1L1099.2 1273.4L1101.2 1273.7L1103.2 1273.9L1105.2 1274.2L1107.2 1274.5L1109.1 1274.8L1111.1 1275.1L1113.1 1275.4L1115.1 1275.7L1117.1 1276.0L1119.0 1276.2L1121.0 1276.5L1123.0 1276.8L1125.0 1277.1L1127.0 1277.3L1128.9 1277.6L1130.9 1277.8L1132.9 1278.0L1134.9 1278.2L1136.9 1278.4L1138.9 1278.6L1140.9 1278.8L1142.9 1278.9L1144.9 1279.1L1146.8 1279.3L1148.8 1279.5L1150.8 1279.6L1152.8 1279.8L1154.8 1280.0L1156.8 1280.1L1158.8 1280.3L1160.8 1280.5L1162.8 1280.6L1164.8 1280.8L1166.8 1280.9L1168.8 1281.1L1170.8 1281.2L1172.8 1281.4L1174.8 1281.5L1176.8 1281.6L1178.8 1281.7L1180.8 1281.9L1182.8 1282.0L1184.8 1282.1L1186.8 1282.1L1188.8 1282.2L1190.8 1282.3L1192.8 1282.4L1194.8 1282.4L1196.8 1282.5L1198.8 1282.5L1200.8 1282.5L1202.8 1282.5L1204.8 1282.5L1206.8 1282.6L1208.8 1282.6L1210.7 1282.6L1212.7 1282.6L1214.7 1282.6L1216.7 1282.7L1218.7 1282.7L1220.7 1282.7L1222.7 1282.7L1224.7 1282.7L1226.7 1282.7L1228.7 1282.7L1230.7 1282.8L1232.7 1282.8L1234.7 1282.8L1236.7 1282.8L1238.7 1282.8L1240.7 1282.8L1242.7 1282.8L1244.7 1282.8L1246.7 1282.9L1248.7 1282.9L1250.7 1282.9L1252.7 1282.9L1254.7 1282.9L1256.7 1282.9L1258.7 1282.9L1260.7 1282.9L1262.7 1282.9L1264.7 1282.9L1266.8 1282.9L1268.8 1283.0L1270.8 1283.0L1272.8 1283.0L1274.8 1283.0L1276.8 1283.0L1278.8 1283.0L1280.8 1283.0L1282.8 1283.0L1284.8 1283.0L1286.8 1283.0L1288.8 1283.0L1290.8 1283.0L1292.8 1283.0L1294.8 1283.0L1296.8 1283.0L1298.8 1283.0L1300.8 1283.0L1302.8 1283.0L1304.8 1283.0L1306.8 1283.0L1308.8 1283.0L1310.8 1283.0L1312.8 1283.0L1314.8 1283.0L1316.8 1283.0L1318.8 1283.0L1320.8 1283.0L1322.8 1283.0L1324.8 1283.0L1326.8 1283.0L1328.8 1283.0L1330.8 1283.0L1332.8 1283.0L1334.8 1283.0L1336.8 1283.0L1338.8 1283.0L1340.8 1283.0L1342.8 1283.0L1344.8 1283.0L1346.8 1283.0L1348.8 1283.0L1350.8 1283.0L1352.8 1283.0L1354.8 1283.0L1356.8 1283.0L1358.8 1283.0L1360.8 1283.0L1362.8 1283.0L1364.8 1283.0L1366.8 1283.0L1368.8 1283.0L1370.8 1283.0L1372.8 1283.0L1374.8 1283.0L1376.8 1283.0L1378.8 1283.0L1380.8 1283.0L1382.8 1283.0L1384.8 1283.0L1386.8 1283.0L1388.8 1283.0L1390.8 1283.0L1392.8 1283.0L1394.8 1283.0L1396.8 1283.0L1398.8 1283.0L1400.8 1283.0L1402.8 1283.0L1404.8 1283.0L1406.8 1283.0L1408.8 1283.0L1410.8 1283.0L1412.8 1283.0L1414.8 1283.0L1416.8 1283.0L1418.8 1283.0L1420.8 1283.0L1422.8 1283.0L1424.8 1283.0L1426.8 1283.0L1428.8 1283.0L1430.8 1283.0L1432.8 1283.0L1434.8 1283.0L1436.8 1283.0L1438.8 1283.0L1440.8 1283.0L1442.8 1283.0L1444.8 1283.0L1446.8 1283.0L1448.8 1283.0L1450.8 1283.0L1452.8 1283.0L1454.8 1283.0L1456.8 1283.0L1458.8 1283.0L1460.8 1283.0L1462.8 1283.0L1464.8 1283.0L1466.8 1283.0L1468.8 1283.0L1470.8 1283.0L1472.8 1283.0L1474.8 1283.0L1476.8 1283.0L1478.8 1283.0L1480.8 1283.0L1482.8 1283.0L1484.8 1283.0L1486.8 1283.0L1488.8 1283.0L1490.8 1283.0L1492.8 1283.0L1494.8 1283.0L1496.8 1283.0L1498.8 1283.0L1500.8 1283.0L1502.8 1283.0L1504.8 1283.0L1506.8 1283.0L1508.8 1283.0L1510.8 1283.0L1512.8 1283.0L1514.8 1283.0L1516.8 1283.0L1518.8 1283.0L1520.8 1283.0L1522.8 1283.0L1524.8 1283.0L1526.8 1283.0L1528.8 1283.0L1530.8 1283.0L1532.8 1283.0L1534.8 1283.0L1536.8 1283.0L1538.8 1283.0L1540.8 1283.0L1542.8 1283.0L1544.8 1283.0L1546.8 1283.0L1548.8 1283.0L1550.8 1283.0L1552.8 1283.0L1554.8 1283.0L1556.8 1283.0L1558.8 1283.0L1560.8 1283.0L1562.8 1283.0L1564.8 1283.0L1566.8 1283.0L1568.8 1283.0L1570.8 1283.0L1572.8 1283.0L1574.8 1283.0L1576.8 1283.0L1578.8 1283.0L1580.8 1283.0L1582.8 1283.0L1584.8 1283.0L1586.8 1283.0L1588.8 1283.0L1590.8 1283.0L1592.8 1283.0L1594.8 1283.0L1596.8 1283.0L1598.8 1283.0L1600.8 1283.0L1602.8 1283.0L1604.8 1283.0L1606.8 1283.0L1608.8 1283.0L1610.8 1283.0L1612.8 1283.0L1614.8 1283.0L1616.8 1283.0L1618.8 1283.0L1620.8 1283.0L1622.8 1283.0L1624.8 1283.0L1626.8 1283.0L1628.8 1283.0L1630.8 1283.0L1632.8 1283.0L1634.8 1283.0L1636.8 1283.0L1638.8 1283.0L1640.8 1283.0L1642.8 1283.0L1644.8 1283.0L1646.8 1283.0L1648.8 1283.0L1650.8 1283.0L1652.8 1283.0L1654.8 1283.0L1656.8 1283.0L1658.8 1283.0L1660.8 1283.0L1662.8 1283.0L1664.8 1283.0L1666.8 1283.0L1668.8 1283.0L1670.8 1283.0L1672.8 1283.0L1674.8 1283.0L1676.8 1283.0L1678.8 1283.0L1680.8 1283.0L1682.8 1283.0L1684.8 1283.0L1686.8 1283.0L1688.8 1283.0L1690.8 1283.0L1692.8 1283.0L1694.8 1283.0L1696.8 1283.0L1698.8 1283.0L1700.8 1283.0L1702.8 1283.0L1704.8 1283.0L1706.8 1283.0L1708.8 1283.0L1710.8 1283.0L1712.8 1283.0L1714.8 1283.0L1716.8 1283.0L1718.8 1283.0L1720.8 1283.0L1722.8 1283.0L1724.8 1283.0L1726.8 1283.0L1728.8 1283.0L1730.8 1283.0L1732.8 1283.0L1734.8 1283.0L1736.8 1283.0L1738.8 1283.0L1740.8 1283.0L1742.8 1283.0L1744.8 1283.0L1746.8 1283.0L1748.8 1283.0L1750.8 1283.0L1752.8 1283.0L1754.8 1283.0L1756.8 1283.0L1758.8 1283.0L1760.8 1283.0L1762.8 1283.0L1764.8 1283.0L1766.8 1283.0L1768.8 1283.0L1770.8 1283.0L1772.8 1283.0L1774.8 1283.0L1776.8 1283.0L1778.8 1283.0L1780.8 1283.0L1782.8 1283.0L1784.8 1283.0L1786.8 1283.0L1788.8 1283.0L1790.8 1283.0L1792.8 1283.0L1794.8 1283.0L1796.8 1283.0L1798.8 1283.0L1800.8 1283.0L1802.8 1283.0L1804.8 1283.0L1806.8 1283.0L1808.8 1283.0L1810.8 1283.0L1812.8 1283.0L1814.8 1283.0L1816.8 1283.0L1818.8 1283.0L1820.8 1283.0L1822.8 1283.0L1824.8 1283.0L1826.8 1283.0L1828.8 1283.0L1830.8 1283.0L1832.8 1283.0L1834.8 1283.0L1836.8 1283.0L1838.8 1283.0L1840.8 1283.0L1842.8 1283.0L1844.8 1283.0L1846.8 1283.0L1848.8 1283.0L1850.8 1283.0L1852.8 1283.0L1854.8 1283.0L1856.8 1283.0L1858.8 1283.0L1860.8 1283.0L1862.8 1283.0L1864.8 1283.0L1866.8 1283.0L1868.8 1283.0L1870.8 1283.0L1872.8 1283.0L1874.8 1283.0L1876.8 1283.0L1878.8 1283.0L1880.8 1283.0L1882.8 1283.0L1884.8 1283.0L1886.8 1283.0L1888.8 1283.0L1890.8 1283.0L1892.8 1283.0L1894.8 1283.0L1896.8 1283.0L1898.8 1283.0L1900.8 1283.0L1902.8 1283.0L1904.8 1283.0L1906.8 1283.0L1908.8 1283.0L1910.8 1283.0L1912.8 1283.0L1914.8 1283.0L1916.8 1283.0L1918.8 1283.0L1920.8 1283.0L1922.8 1283.0L1924.8 1283.0L1926.8 1283.0L1928.8 1283.0L1930.8 1283.0L1932.8 1283.0L1934.8 1283.0L1936.8 1283.0L1938.8 1283.0L1940.8 1283.0L1942.8 1283.0L1944.8 1283.0L1946.8 1283.0L1948.8 1283.0L1950.8 1283.0L1952.0 1283.0"/>
<path stroke="#0000ff" d="M287.0 612.6L287.8 612.1L288.3 611.6L289.0 610.6L289.6 610.0L290.2 610.3L290.9 609.5L291.4 608.4L292.3 609.1L292.9 608.9L293.3 607.1L294.2 607.7L294.5 605.4L295.7 605.7L295.7 606.3L296.7 604.4L297.2 604.4L297.4 602.6L298.6 605.0L298.6 603.4L299.2 602.0L300.2 604.2L301.9 605.0L301.0 602.4L301.9 602.8L302.7 603.7L304.3 597.2L304.8 599.9L306.1 601.6L305.8 595.1L306.2 594.9L308.3 597.1L307.6 598.3L307.6 597.0L308.2 596.9L308.8 592.7L310.6 598.4L310.8 594.8L310.4 592.5L312.1 599.1L311.7 596.2L314.3 593.3L314.8 596.1L315.8 591.3L316.9 591.1L316.9 589.3L315.8 597.2L316.7 587.4L319.3 596.2L318.9 587.1L321.1 598.4L319.3 587.0L322.3 590.7L320.6 583.2L323.5 589.0L322.8 587.2L324.7 583.9L323.5 586.2L324.8 585.0L327.0 580.8L326.5 583.9L326.8 583.7L328.5 588.5L330.1 580.9L330.1 588.3L329.7 588.1L333.1 585.5L331.1 582.1L333.4 586.8L333.8 580.8L334.8 581.5L336.3 583.6L335.9 580.8L335.4 580.2L337.8 578.0L337.2 574.6L338.5 577.4L338.2 580.1L338.9 581.2L340.4 571.8L340.6 579.0L341.2 571.5L343.9 578.2L343.7 575.3L343.1 581.5L343.5 572.2L344.4 578.4L345.8 578.7L348.2 576.7L349.2 579.4L349.4 579.5L349.6 579.8L351.9 577.9L352.2 580.2L352.2 581.8L353.2 577.7L354.6 582.0L353.7 580.2L355.4 581.1L356.0 581.0L353.9 580.8L355.5 584.6L356.9 582.3L356.0 581.2L355.7 587.1L357.4 584.6L358.5 587.1L357.1 591.4L358.6 589.6L359.3 589.5L358.5 588.5L359.5 592.7L358.9 595.5L358.9 594.3L359.5 595.3L359.2 592.3L360.3 592.9L360.1 593.8L360.2 595.3L360.8 599.0L359.9 596.4L360.5 595.0L361.1 598.4L361.4 597.2L361.2 600.7L360.0 599.4L361.0 604.5L360.1 601.6L360.6 603.4L360.5 604.2L360.5 603.8L360.8 608.4L360.8 602.8L362.4 608.3L361.8 605.9L361.7 605.3L361.5 606.9L362.8 611.5L362.1 613.4L362.8 613.3L362.0 611.0L361.8 613.2L363.4 611.6L363.4 614.5L363.5 614.5L363.8 614.2L363.2 616.8L362.8 621.8L364.3 620.4L363.5 619.9L364.4 620.0L362.9 625.4L362.9 621.4L363.2 621.9L364.9 623.1L364.5 627.6L364.6 629.4L365.0 625.4L365.4 629.2L364.4 629.9L363.9 629.8L365.2 627.5L365.4 631.9L365.3 631.1L364.4 634.4L365.5 635.3L365.2 634.4L365.7 632.6L365.7 634.6L366.2 637.1L365.1 639.3L365.4 637.9L364.9 638.6L366.1 640.7L365.8 642.7L366.7 640.2L365.5 643.0L366.4 643.9L366.9 644.0L366.4 644.2L366.7 647.8L367.3 647.9L367.3 645.6L366.0 645.6L367.0 647.5L366.7 649.0L367.0 648.6L366.8 650.1L368.0 652.4L367.6 653.4L367.2 654.5L367.8 655.3L367.1 654.0L368.2 655.6L368.4 657.3L368.2 657.5L367.5 658.2L368.4 659.9L367.5 661.3L367.7 661.9L368.3 660.2L368.1 660.4L368.8 661.9L368.9 664.6L368.8 663.4L368.4 665.7L369.6 665.8L369.4 668.0L369.7 665.5L368.7 668.8L368.7 666.6L368.8 669.6L369.6 670.1L370.0 670.0L369.5 670.9L370.3 672.2L370.2 673.4L369.6 673.2L370.3 674.9L370.0 674.5L369.8 676.7L369.7 677.6L369.9 677.9L370.1 679.0L370.8 680.0L370.5 680.6L370.4 680.3L370.8 681.2L370.5 682.0L371.2 685.0L370.9 684.2L371.3 685.6L371.3 684.8L371.7 686.6L371.3 687.3L371.9 687.6L371.2 688.6L372.2 689.6L371.6 691.9L371.5 692.9L371.9 694.2L372.4 693.4L371.9 694.6L372.0 695.9L372.7 696.1L372.7 697.6L372.5 696.2L373.0 698.6L373.0 697.9L372.5 699.7L372.7 700.1L373.1 701.0L373.0 702.5L373.0 701.7L373.2 702.3L373.2 705.2L373.9 705.0L373.8 705.6L373.7 705.8L374.1 707.5L373.7 708.7L374.1 710.0L374.0 709.7L373.8 709.9L374.0 712.2L374.2 712.0L373.9 713.7L374.4 714.7L374.2 715.8L374.8 714.9L374.3 715.9L374.8 717.0L374.7 718.7L375.2 718.6L374.8 719.4L375.3 721.0L374.8 720.2L375.2 722.0L375.4 724.0L375.7 725.9L375.9 727.9L376.1 729.9L376.4 731.9L376.7 733.9L376.9 735.9L377.2 737.8L377.5 739.8L377.8 741.8L378.1 743.8L378.4 745.7L378.7 747.7L379.1 749.7L379.4 751.7L379.7 753.6L380.1 755.6L380.4 757.6L380.7 759.6L381.1 761.5L381.4 763.5L381.8 765.5L382.2 767.4L382.5 769.4L383.0 771.4L383.4 773.3L383.8 775.3L384.3 777.2L384.7 779.2L385.2 781.1L385.8 783.1L386.3 785.0L386.9 786.9L387.5 788.8L388.2 790.6L389.0 792.5L389.9 794.4L390.8 796.3L391.9 798.2L393.1 799.8L394.3 801.2L395.7 802.3L397.3 803.4L399.1 804.3L401.0 805.2L403.1 805.9L405.1 806.3L407.0 806.5L408.9 806.3L410.9 805.9L412.8 805.3L414.7 804.6L416.6 803.8L418.5 803.1L420.4 802.4L422.2 801.6L424.1 800.8L425.9 800.0L427.7 799.1L429.5 798.2L431.2 797.3L433.0 796.3L434.8 795.4L436.6 794.5L438.4 793.6L440.2 792.7L442.0 791.8L443.8 790.8L445.6 789.8L447.4 789.0L449.2 788.3L451.1 787.9L453.0 787.5L455.0 787.1L457.0 786.8L459.0 786.5L461.0 786.2L463.0 786.1L465.0 785.9L467.0 785.9L469.0 786.0L471.0 786.3L472.9 786.7L474.9 787.2L476.9 787.7L478.8 788.3L480.7 788.9L482.6 789.5L484.4 790.3L486.3 791.1L488.1 791.9L489.9 792.8L491.6 793.8L493.3 794.8L495.0 795.9L496.7 797.0L498.4 798.1L500.0 799.2L501.7 800.4L503.3 801.6L504.9 802.8L506.5 804.0L508.1 805.2L509.6 806.4L511.2 807.7L512.7 808.9L514.3 810.2L515.8 811.5L517.4 812.8L518.9 814.1L520.4 815.4L521.9 816.7L523.4 818.1L524.8 819.4L526.3 820.8L527.7 822.2L529.2 823.5L530.7 824.9L532.1 826.3L533.6 827.6L535.0 829.0L536.5 830.4L537.9 831.8L539.4 833.2L540.8 834.5L542.3 835.9L543.7 837.3L545.2 838.7L546.6 840.1L548.1 841.4L549.5 842.8L551.0 844.2L552.4 845.6L553.8 847.0L555.3 848.3L556.7 849.7L558.2 851.1L559.7 852.4L561.2 853.8L562.7 855.1L564.2 856.4L565.7 857.7L567.2 859.0L568.7 860.4L570.2 861.7L571.6 863.1L573.1 864.4L574.6 865.8L576.0 867.1L577.5 868.5L579.0 869.8L580.5 871.2L582.0 872.5L583.5 873.8L585.0 875.1L586.5 876.4L588.1 877.7L589.7 878.9L591.3 880.1L592.9 881.2L594.6 882.3L596.3 883.4L598.0 884.4L599.7 885.4L601.5 886.3L603.3 887.2L605.1 888.1L606.9 888.9L608.8 889.7L610.6 890.5L612.5 891.3L614.3 892.0L616.2 892.8L618.1 893.4L619.9 894.1L621.8 894.8L623.7 895.4L625.7 896.0L627.6 896.5L629.5 896.9L631.5 897.1L633.5 897.3L635.5 897.5L637.5 897.6L639.5 897.8L641.5 898.0L643.5 898.2L645.5 898.4L647.5 898.5L649.5 898.7L651.5 898.8L653.5 898.8L655.5 898.8L657.5 898.7L659.4 898.5L661.4 898.3L663.4 898.1L665.4 897.8L667.4 897.5L669.4 897.2L671.4 896.9L673.3 896.5L675.3 896.2L677.3 895.9L679.3 895.6L681.2 895.3L683.2 894.9L685.2 894.5L687.1 894.2L689.1 893.7L691.0 893.3L693.0 892.9L695.0 892.5L696.9 892.1L698.9 891.6L700.8 891.2L702.8 890.8L704.8 890.4L706.7 890.0L708.7 889.6L710.6 889.1L712.6 888.7L714.5 888.3L716.5 887.8L718.5 887.4L720.4 887.0L722.4 886.7L724.3 886.3L726.3 886.0L728.3 885.7L730.3 885.5L732.3 885.2L734.2 884.9L736.2 884.7L738.2 884.4L740.2 884.2L742.2 884.0L744.2 883.9L746.2 883.8L748.2 883.8L750.2 883.8L752.2 883.8L754.2 883.9L756.2 883.9L758.3 884.0L760.3 884.0L762.2 884.1L764.2 884.2L766.2 884.3L768.1 884.5L770.1 884.9L772.0 885.4L774.0 886.1L775.9 886.8L777.8 887.6L779.7 888.4L781.5 889.2L783.3 890.1L785.1 890.9L786.8 891.9L788.5 892.9L790.1 894.0L791.7 895.2L793.3 896.5L794.9 897.8L796.5 899.1L798.0 900.5L799.5 901.8L800.9 903.1L802.4 904.5L803.8 905.9L805.2 907.3L806.6 908.8L807.9 910.3L809.2 911.8L810.6 913.3L811.9 914.8L813.2 916.3L814.5 917.9L815.8 919.4L817.0 920.9L818.3 922.5L819.5 924.0L820.8 925.6L822.0 927.2L823.2 928.8L824.4 930.4L825.6 932.0L826.8 933.6L828.0 935.2L829.1 936.8L830.3 938.5L831.5 940.1L832.7 941.7L833.9 943.3L835.0 944.9L836.2 946.6L837.4 948.2L838.6 949.8L839.8 951.4L841.0 953.0L842.2 954.6L843.4 956.2L844.7 957.7L845.9 959.3L847.1 960.9L848.4 962.5L849.6 964.1L850.8 965.7L852.0 967.2L853.3 968.8L854.5 970.4L855.7 972.0L856.9 973.6L858.0 975.3L859.2 976.9L860.4 978.5L861.5 980.2L862.6 981.8L863.7 983.5L864.7 985.1L865.8 986.8L866.8 988.6L867.8 990.3L868.7 992.1L869.7 993.8L870.6 995.6L871.6 997.4L872.5 999.1L873.4 1000.9L874.4 1002.7L875.4 1004.4L876.3 1006.2L877.3 1007.9L878.3 1009.6L879.4 1011.4L880.4 1013.1L881.4 1014.8L882.5 1016.5L883.5 1018.2L884.5 1019.9L885.6 1021.6L886.6 1023.4L887.6 1025.1L888.6 1026.8L889.6 1028.6L890.5 1030.3L891.5 1032.1L892.4 1033.8L893.4 1035.6L894.3 1037.3L895.3 1039.1L896.2 1040.9L897.1 1042.7L898.0 1044.4L899.0 1046.2L899.9 1048.0L900.8 1049.8L901.6 1051.6L902.5 1053.4L903.4 1055.2L904.3 1057.0L905.1 1058.8L906.0 1060.6L906.8 1062.4L907.7 1064.2L908.5 1066.0L909.3 1067.9L910.2 1069.7L911.0 1071.5L911.8 1073.3L912.6 1075.2L913.4 1077.0L914.2 1078.8L915.0 1080.6L915.8 1082.5L916.6 1084.3L917.4 1086.2L918.1 1088.0L918.9 1089.9L919.7 1091.7L920.5 1093.6L921.2 1095.4L922.1 1097.2L922.9 1099.0L923.7 1100.8L924.6 1102.6L925.5 1104.4L926.4 1106.2L927.4 1108.0L928.3 1109.8L929.2 1111.5L930.1 1113.3L930.9 1115.1L931.8 1116.9L932.6 1118.8L933.5 1120.6L934.3 1122.4L935.2 1124.2L936.0 1126.0L936.8 1127.8L937.7 1129.6L938.5 1131.5L939.4 1133.3L940.2 1135.1L941.1 1136.9L941.9 1138.7L942.8 1140.5L943.6 1142.3L944.5 1144.1L945.3 1145.9L946.2 1147.8L947.0 1149.6L947.9 1151.4L948.7 1153.2L949.6 1155.0L950.5 1156.8L951.3 1158.6L952.2 1160.4L953.1 1162.2L954.0 1164.0L954.9 1165.8L955.7 1167.6L956.6 1169.4L957.5 1171.1L958.4 1172.9L959.3 1174.7L960.2 1176.5L961.1 1178.3L962.1 1180.1L963.0 1181.8L963.9 1183.6L964.8 1185.4L965.8 1187.1L966.7 1188.9L967.6 1190.7L968.6 1192.5L969.5 1194.2L970.5 1196.0L971.4 1197.7L972.4 1199.5L973.4 1201.2L974.4 1202.9L975.5 1204.6L976.5 1206.3L977.6 1208.0L978.7 1209.7L979.8 1211.3L981.0 1213.0L982.2 1214.6L983.3 1216.2L984.5 1217.8L985.7 1219.4L987.0 1221.0L988.2 1222.6L989.4 1224.2L990.6 1225.8L991.9 1227.3L993.1 1228.9L994.4 1230.5L995.6 1232.0L996.9 1233.6L998.2 1235.1L999.6 1236.6L1000.9 1238.0L1002.3 1239.4L1003.7 1240.9L1005.1 1242.3L1006.6 1243.7L1008.1 1245.0L1009.6 1246.3L1011.1 1247.6L1012.7 1248.8L1014.3 1250.0L1015.9 1251.1L1017.6 1252.2L1019.3 1253.3L1021.1 1254.3L1022.8 1255.3L1024.6 1256.3L1026.4 1257.1L1028.2 1258.0L1030.0 1258.8L1031.9 1259.6L1033.7 1260.4L1035.6 1261.1L1037.5 1261.7L1039.4 1262.1L1041.4 1262.5L1043.3 1262.9L1045.3 1263.3L1047.2 1263.6L1049.2 1263.9L1051.2 1264.2L1053.2 1264.5L1055.2 1264.8L1057.2 1265.0L1059.2 1265.2L1061.2 1265.5L1063.2 1265.7L1065.2 1265.9L1067.2 1266.1L1069.2 1266.2L1071.2 1266.4L1073.2 1266.5L1075.1 1266.6L1077.1 1266.8L1079.1 1266.9L1081.1 1267.1L1083.1 1267.2L1085.1 1267.4L1087.1 1267.6L1089.1 1267.8L1091.1 1268.0L1093.1 1268.3L1095.0 1268.6L1097.0 1269.0L1099.0 1269.3L1100.9 1269.7L1102.9 1270.0L1104.9 1270.4L1106.8 1270.8L1108.8 1271.1L1110.8 1271.5L1112.8 1271.8L1114.7 1272.2L1116.7 1272.5L1118.7 1272.9L1120.6 1273.2L1122.6 1273.6L1124.6 1274.0L1126.5 1274.3L1128.5 1274.7L1130.5 1275.0L1132.5 1275.3L1134.4 1275.6L1136.4 1275.9L1138.4 1276.2L1140.4 1276.4L1142.4 1276.6L1144.3 1276.9L1146.3 1277.1L1148.3 1277.3L1150.3 1277.5L1152.3 1277.8L1154.3 1278.0L1156.3 1278.2L1158.3 1278.4L1160.3 1278.6L1162.3 1278.7L1164.3 1278.9L1166.2 1279.1L1168.2 1279.3L1170.2 1279.4L1172.2 1279.6L1174.2 1279.7L1176.2 1279.9L1178.2 1280.0L1180.2 1280.2L1182.2 1280.3L1184.2 1280.5L1186.2 1280.6L1188.2 1280.8L1190.2 1280.9L1192.2 1281.0L1194.2 1281.2L1196.2 1281.3L1198.2 1281.5L1200.2 1281.6L1202.2 1281.7L1204.2 1281.8L1206.2 1281.9L1208.2 1282.1L1210.1 1282.2L1212.1 1282.2L1214.1 1282.3L1216.1 1282.4L1218.1 1282.5L1220.1 1282.5L1222.1 1282.6L1224.1 1282.6L1226.1 1282.6L1228.1 1282.6L1230.1 1282.7L1232.1 1282.7L1234.1 1282.7L1236.1 1282.7L1238.1 1282.7L1240.1 1282.7L1242.1 1282.8L1244.1 1282.8L1246.1 1282.8L1248.1 1282.8L1250.1 1282.8L1252.1 1282.8L1254.1 1282.8L1256.1 1282.9L1258.1 1282.9L1260.1 1282.9L1262.1 1282.9L1264.1 1282.9L1266.1 1282.9L1268.1 1282.9L1270.1 1282.9L1272.1 1282.9L1274.1 1283.0L1276.1 1283.0L1278.1 1283.0L1280.1 1283.0L1282.1 1283.0L1284.1 1283.0L1286.1 1283.0L1288.1 1283.0L1290.1 1283.0L1292.1 1283.0L1294.1 1283.0L1296.1 1283.0L1298.1 1283.0L1300.1 1283.0L1302.1 1283.0L1304.1 1283.0L1306.1 1283.0L1308.1 1283.0L1310.1 1283.0L1312.1 1283.0L1314.1 1283.0L1316.1 1283.0L1318.1 1283.0L1320.1 1283.0L1322.1 1283.0L1324.1 1283.0L1326.1 1283.0L1328.1 1283.0L1330.1 1283.0L1332.1 1283.0L1334.1 1283.0L1336.1 1283.0L1338.1 1283.0L1340.1 1283.0L1342.1 1283.0L1344.1 1283.0L1346.1 1283.0L1348.1 1283.0L1350.1 1283.0L1352.1 1283.0L1354.1 1283.0L1356.1 1283.0L1358.1 1283.0L1360.1 1283.0L1362.1 1283.0L1364.1 1283.0L1366.1 1283.0L1368.1 1283.0L1370.1 1283.0L1372.1 1283.0L1374.1 1283.0L1376.1 1283.0L1378.1 1283.0L1380.1 1283.0L1382.1 1283.0L1384.1 1283.0L1386.1 1283.0L1388.1 1283.0L1390.1 1283.0L1392.1 1283.0L1394.1 1283.0L1396.1 1283.0L1398.1 1283.0L1400.1 1283.0L1402.1 1283.0L1404.1 1283.0L1406.1 1283.0L1408.1 1283.0L1410.1 1283.0L1412.1 1283.0L1414.1 1283.0L1416.1 1283.0L1418.1 1283.0L1420.1 1283.0L1422.1 1283.0L1424.1 1283.0L1426.1 1283.0L1428.1 1283.0L1430.1 1283.0L1432.1 1283.0L1434.1 1283.0L1436.1 1283.0L1438.1 1283.0L1440.1 1283.0L1442.1 1283.0L1444.1 1283.0L1446.1 1283.0L1448.1 1283.0L1450.1 1283.0L1452.1 1283.0L1454.1 1283.0L1456.1 1283.0L1458.1 1283.0L1460.1 1283.0L1462.1 1283.0L1464.1 1283.0L1466.1 1283.0L1468.1 1283.0L1470.1 1283.0L1472.1 1283.0L1474.1 1283.0L1476.1 1283.0L1478.1 1283.0L1480.1 1283.0L1482.1 1283.0L1484.1 1283.0L1486.1 1283.0L1488.1 1283.0L1490.1 1283.0L1492.1 1283.0L1494.1 1283.0L1496.1 1283.0L1498.1 1283.0L1500.1 1283.0L1502.1 1283.0L1504.1 1283.0L1506.1 1283.0L1508.1 1283.0L1510.1 1283.0L1512.1 1283.0L1514.1 1283.0L1516.1 1283.0L1518.1 1283.0L1520.1 1283.0L1522.1 1283.0L1524.1 1283.0L1526.1 1283.0L1528.1 1283.0L1530.1 1283.0L1532.1 1283.0L1534.1 1283.0L1536.1 1283.0L1538.1 1283.0L1540.1 1283.0L1542.1 1283.0L1544.1 1283.0L1546.1 1283.0L1548.1 1283.0L1550.1 1283.0L1552.1 1283.0L1554.1 1283.0L1556.1 1283.0L1558.1 1283.0L1560.1 1283.0L1562.1 1283.0L1564.1 1283.0L1566.1 1283.0L1568.1 1283.0L1570.1 1283.0L1572.1 1283.0L1574.1 1283.0L1576.1 1283.0L1578.1 1283.0L1580.1 1283.0L1582.1 1283.0L1584.1 1283.0L1586.1 1283.0L1588.1 1283.0L1590.1 1283.0L1592.1 1283.0L1594.1 1283.0L1596.1 1283.0L1598.1 1283.0L1600.1 1283.0L1602.1 1283.0L1604.1 1283.0L1606.1 1283.0L1608.1 1283.0L1610.1 1283.0L1612.1 1283.0L1614.1 1283.0L1616.1 1283.0L1618.1 1283.0L1620.1 1283.0L1622.1 1283.0L1624.1 1283.0L1626.1 1283.0L1628.1 1283.0L1630.1 1283.0L1632.1 1283.0L1634.1 1283.0L1636.1 1283.0L1638.1 1283.0L1640.1 1283.0L1642.1 1283.0L1644.1 1283.0L1646.1 1283.0L1648.1 1283.0L1650.1 1283.0L1652.1 1283.0L1654.1 1283.0L1656.1 1283.0L1658.1 1283.0L1660.1 1283.0L1662.1 1283.0L1664.1 1283.0L1666.1 1283.0L1668.1 1283.0L1670.1 1283.0L1672.1 1283.0L1674.1 1283.0L1676.1 1283.0L1678.1 1283.0L1680.1 1283.0L1682.1 1283.0L1684.1 1283.0L1686.1 1283.0L1688.1 1283.0L1690.1 1283.0L1692.1 1283.0L1694.1 1283.0L1696.1 1283.0L1698.1 1283.0L1700.1 1283.0L1702.1 1283.0L1704.1 1283.0L1706.1 1283.0L1708.1 1283.0L1710.1 1283.0L1712.1 1283.0L1714.1 1283.0L1716.1 1283.0L1718.1 1283.0L1720.1 1283.0L1722.1 1283.0L1724.1 1283.0L1726.1 1283.0L1728.1 1283.0L1730.1 1283.0L1732.1 1283.0L1734.1 1283.0L1736.1 1283.0L1738.1 1283.0L1740.1 1283.0L1742.1 1283.0L1744.1 1283.0L1746.1 1283.0L1748.1 1283.0L1750.1 1283.0L1752.1 1283.0L1754.1 1283.0L1756.1 1283.0L1758.1 1283.0L1760.1 1283.0L1762.1 1283.0L1764.1 1283.0L1766.1 1283.0L1768.1 1283.0L1770.1 1283.0L1772.1 1283.0L1774.1 1283.0L1776.1 1283.0L1778.1 1283.0L1780.1 1283.0L1782.1 1283.0L1784.1 1283.0L1786.1 1283.0L1788.1 1283.0L1790.1 1283.0L1792.1 1283.0L1794.1 1283.0L1796.1 1283.0L1798.1 1283.0L1800.1 1283.0L1802.1 1283.0L1804.1 1283.0L1806.1 1283.0L1808.1 1283.0L1810.1 1283.0L1812.1 1283.0L1814.1 1283.0L1816.1 1283.0L1818.1 1283.0L1820.1 1283.0L1822.1 1283.0L1824.1 1283.0L1826.1 1283.0L1828.1 1283.0L1830.1 1283.0L1832.1 1283.0L1834.1 1283.0L1836.1 1283.0L1838.1 1283.0L1840.1 1283.0L1842.1 1283.0L1844.1 1283.0L1846.1 1283.0L1848.1 1283.0L1850.1 1283.0L1852.1 1283.0L1854.1 1283.0L1856.1 1283.0L1858.1 1283.0L1860.1 1283.0L1862.1 1283.0L1864.1 1283.0L1866.1 1283.0L1868.1 1283.0L1870.1 1283.0L1872.1 1283.0L1874.1 1283.0L1876.1 1283.0L1878.1 1283.0L1880.1 1283.0L1882.1 1283.0L1884.1 1283.0L1886.1 1283.0L1888.1 1283.0L1890.1 1283.0L1892.1 1283.0L1894.1 1283.0L1896.1 1283.0L1898.1 1283.0L1900.1 1283.0L1902.1 1283.0L1904.1 1283.0L1906.1 1283.0L1908.1 1283.0L1910.1 1283.0L1912.1 1283.0L1914.1 1283.0L1916.1 1283.0L1918.1 1283.0L1920.1 1283.0L1922.1 1283.0L1924.1 1283.0L1926.1 1283.0L1928.1 1283.0L1930.1 1283.0L1932.1 1283.0L1934.1 1283.0L1936.1 1283.0L1938.1 1283.0L1940.1 1283.0L1942.1 1283.0L1944.1 1283.0L1946.1 1283.0L1948.1 1283.0L1950.1 1283.0L1952.0 1283.0"/>
<path stroke="#008080" d="M287.0 992.2L287.8 991.9L288.6 992.0L289.5 992.0L290.2 991.8L291.1 991.7L291.9 991.7L292.5 991.7L293.3 991.5L294.2 991.5L294.8 991.6L295.6 990.5L296.6 991.2L297.4 991.2L298.2 990.5L299.1 990.5L299.7 989.9L300.3 990.8L301.1 991.7L302.5 990.0L303.4 990.5L304.0 991.9L304.9 991.0L305.8 990.6L305.7 991.3L306.7 989.0L308.0 989.3L308.5 992.0L309.2 989.0L309.9 988.3L311.0 992.1L312.2 991.2L312.3 992.2L312.9 990.9L314.1 991.9L315.6 988.1L316.0 991.5L317.2 985.4L317.1 993.5L318.6 986.3L318.7 992.3L319.0 982.6L321.0 992.2L322.1 987.6L322.3 992.9L323.1 987.2L324.2 991.0L325.2 989.7L325.8 989.9L325.3 991.0L327.2 990.0L327.0 987.5L328.7 985.2L328.7 985.9L330.2 985.1L331.5 988.8L332.4 988.8L332.7 985.7L333.2 989.5L333.4 986.2L335.1 986.9L336.3 987.5L336.8 989.8L336.6 988.9L337.2 985.6L339.1 988.2L339.6 986.5L340.3 986.2L341.9 989.9L341.5 981.6L343.4 987.0L344.3 986.1L345.3 986.3L345.9 983.9L346.2 990.8L346.9 988.3L348.2 988.5L348.1 987.9L348.5 988.8L350.9 988.4L350.9 986.6L352.3 987.7L351.9 988.4L352.2 989.6L352.9 989.4L353.9 991.5L355.6 992.4L354.8 992.7L355.1 991.7L356.6 991.8L357.3 990.4L356.9 992.6L358.3 995.3L357.8 993.6L358.5 993.9L359.9 993.8L360.4 996.7L359.9 996.7L360.4 995.2L360.0 997.0L361.7 997.0L361.1 998.2L361.6 999.5L362.0 999.5L361.8 1004.5L362.2 1003.7L362.2 1002.3L362.9 1004.9L362.7 1005.1L363.6 1005.0L363.2 1006.8L364.2 1008.2L363.7 1007.1L364.3 1011.4L365.0 1010.3L364.6 1009.5L365.3 1012.7L365.0 1014.5L366.0 1011.7L366.3 1015.0L366.3 1016.4L365.7 1015.6L366.6 1014.9L367.0 1018.0L366.8 1017.1L366.8 1017.7L367.6 1020.0L367.4 1018.0L368.4 1019.6L368.3 1022.7L368.6 1021.0L368.0 1021.6L368.8 1022.5L369.2 1024.7L369.4 1025.0L369.5 1026.3L369.2 1028.3L369.8 1027.0L369.7 1029.4L370.8 1029.6L370.5 1030.5L370.4 1029.6L371.2 1030.4L370.9 1031.5L371.9 1033.0L371.8 1033.5L371.8 1034.1L371.7 1036.4L372.0 1036.3L372.9 1036.4L372.7 1037.9L372.8 1039.4L372.8 1038.5L373.3 1039.9L373.1 1040.3L373.9 1041.9L374.0 1041.8L373.7 1043.2L374.3 1045.5L374.3 1046.1L374.8 1044.9L375.1 1046.5L375.2 1048.3L375.4 1049.1L375.7 1048.8L375.4 1050.3L375.9 1051.2L375.9 1051.2L376.5 1051.3L376.4 1053.3L377.2 1053.9L376.9 1054.2L377.2 1055.3L377.7 1056.5L377.7 1055.9L378.1 1056.4L378.7 1058.3L378.8 1058.3L379.4 1060.3L379.4 1060.9L379.7 1061.2L380.5 1062.4L380.7 1063.3L380.9 1063.7L381.7 1063.6L382.3 1064.6L382.3 1064.7L383.2 1066.2L383.7 1066.3L384.1 1066.6L384.6 1067.3L385.0 1068.0L385.6 1069.2L386.1 1068.6L386.3 1069.4L386.9 1070.1L387.5 1071.5L388.1 1071.2L389.0 1073.0L389.3 1073.4L389.9 1073.5L390.5 1074.3L391.4 1074.9L391.8 1075.1L393.5 1075.9L395.2 1076.5L397.1 1077.0L399.1 1077.5L401.2 1077.8L403.2 1078.0L405.2 1078.1L407.2 1078.0L409.2 1077.8L411.1 1077.5L413.1 1077.1L415.1 1076.7L417.1 1076.2L419.0 1075.8L421.0 1075.3L423.0 1074.9L424.9 1074.5L426.9 1074.1L428.8 1073.7L430.8 1073.3L432.7 1072.8L434.7 1072.4L436.7 1072.0L438.6 1071.6L440.6 1071.3L442.6 1071.0L444.5 1070.7L446.5 1070.4L448.5 1070.1L450.5 1069.8L452.5 1069.6L454.5 1069.3L456.5 1069.1L458.5 1068.9L460.5 1068.8L462.5 1068.7L464.4 1068.7L466.4 1068.7L468.4 1068.8L470.4 1068.9L472.4 1069.1L474.4 1069.3L476.4 1069.5L478.4 1069.7L480.4 1070.0L482.4 1070.2L484.4 1070.4L486.3 1070.7L488.3 1071.1L490.3 1071.5L492.2 1071.9L494.2 1072.3L496.1 1072.8L498.1 1073.3L500.0 1073.8L502.0 1074.4L503.9 1074.9L505.8 1075.4L507.7 1076.0L509.6 1076.6L511.5 1077.3L513.4 1077.9L515.3 1078.6L517.2 1079.3L519.0 1080.0L520.9 1080.7L522.8 1081.4L524.7 1082.1L526.5 1082.8L528.4 1083.5L530.3 1084.1L532.2 1084.8L534.1 1085.5L535.9 1086.2L537.8 1086.9L539.7 1087.7L541.5 1088.4L543.4 1089.1L545.3 1089.8L547.2 1090.5L549.0 1091.2L550.9 1091.8L552.8 1092.5L554.7 1093.2L556.6 1093.8L558.5 1094.5L560.4 1095.2L562.2 1095.8L564.1 1096.5L566.0 1097.1L567.9 1097.7L569.8 1098.4L571.7 1099.0L573.6 1099.6L575.6 1100.1L577.5 1100.7L579.4 1101.3L581.3 1101.8L583.2 1102.4L585.2 1103.0L587.1 1103.5L589.0 1104.1L591.0 1104.6L592.9 1105.1L594.9 1105.6L596.8 1106.1L598.8 1106.5L600.7 1106.8L602.7 1107.1L604.7 1107.4L606.6 1107.6L608.6 1107.8L610.6 1108.0L612.6 1108.3L614.6 1108.5L616.6 1108.6L618.6 1108.8L620.6 1108.9L622.6 1109.1L624.6 1109.1L626.6 1109.2L628.6 1109.2L630.6 1109.2L632.6 1109.1L634.6 1108.9L636.6 1108.8L638.6 1108.6L640.5 1108.3L642.5 1108.1L644.5 1107.8L646.5 1107.5L648.5 1107.2L650.5 1106.9L652.5 1106.6L654.4 1106.3L656.4 1106.0L658.4 1105.6L660.3 1105.2L662.3 1104.8L664.2 1104.4L666.2 1103.9L668.1 1103.5L670.1 1103.0L672.0 1102.5L674.0 1102.0L675.9 1101.5L677.8 1101.0L679.8 1100.5L681.7 1100.0L683.6 1099.5L685.5 1098.9L687.5 1098.3L689.4 1097.7L691.3 1097.1L693.2 1096.5L695.1 1095.9L697.0 1095.3L698.9 1094.7L700.8 1094.1L702.7 1093.5L704.7 1093.0L706.6 1092.4L708.5 1091.8L710.4 1091.2L712.3 1090.6L714.2 1089.9L716.1 1089.3L718.0 1088.8L720.0 1088.2L721.9 1087.6L723.8 1087.1L725.7 1086.6L727.7 1086.1L729.6 1085.7L731.6 1085.3L733.5 1084.8L735.5 1084.4L737.4 1084.0L739.4 1083.6L741.4 1083.3L743.3 1082.9L745.3 1082.6L747.3 1082.2L749.3 1081.9L751.2 1081.6L753.2 1081.3L755.2 1081.0L757.2 1080.7L759.1 1080.4L761.1 1080.1L763.1 1079.8L765.1 1079.5L767.1 1079.3L769.1 1079.1L771.1 1079.0L773.1 1078.9L775.1 1078.8L777.1 1078.8L779.1 1078.7L781.1 1078.6L783.1 1078.6L785.1 1078.6L787.1 1078.7L789.1 1078.8L791.1 1079.0L793.1 1079.2L795.0 1079.5L797.0 1079.8L799.0 1080.2L800.9 1080.5L802.9 1081.0L804.8 1081.5L806.7 1082.2L808.6 1082.9L810.5 1083.6L812.4 1084.4L814.2 1085.1L816.0 1085.9L817.8 1086.8L819.5 1087.7L821.3 1088.7L823.0 1089.7L824.7 1090.8L826.4 1091.8L828.1 1092.9L829.8 1094.0L831.6 1095.0L833.3 1096.1L835.0 1097.1L836.8 1098.1L838.5 1099.1L840.2 1100.1L842.0 1101.1L843.7 1102.1L845.4 1103.2L847.1 1104.3L848.7 1105.4L850.4 1106.5L851.9 1107.7L853.4 1109.0L854.9 1110.3L856.4 1111.7L857.8 1113.1L859.2 1114.6L860.5 1116.1L861.8 1117.7L863.0 1119.3L864.2 1120.9L865.4 1122.5L866.9 1123.8L868.5 1125.2L870.3 1125.7L872.4 1125.8L874.5 1125.9L876.2 1126.1L877.6 1127.5L878.9 1129.3L880.2 1130.8L881.5 1132.4L882.8 1133.8L884.2 1135.2L885.7 1136.5L887.3 1137.8L888.9 1139.0L890.6 1140.1L892.2 1141.2L893.9 1142.4L895.6 1143.5L897.2 1144.7L898.7 1145.9L900.2 1147.2L901.7 1148.5L903.2 1149.9L904.6 1151.3L906.1 1152.7L907.5 1154.1L908.9 1155.6L910.2 1157.0L911.6 1158.5L913.0 1160.0L914.3 1161.4L915.7 1162.9L917.0 1164.4L918.3 1165.9L919.6 1167.5L920.9 1169.0L922.2 1170.5L923.4 1172.1L924.7 1173.6L925.9 1175.2L927.1 1176.8L928.3 1178.4L929.5 1180.0L930.7 1181.6L931.8 1183.3L933.0 1184.9L934.1 1186.6L935.2 1188.2L936.4 1189.9L937.5 1191.5L938.7 1193.1L939.9 1194.7L941.1 1196.3L942.3 1197.9L943.5 1199.5L944.7 1201.1L945.9 1202.7L947.1 1204.3L948.4 1205.9L949.6 1207.4L950.8 1209.0L952.1 1210.6L953.4 1212.1L954.6 1213.7L955.9 1215.2L957.2 1216.7L958.5 1218.3L959.8 1219.8L961.1 1221.3L962.4 1222.8L963.7 1224.3L965.0 1225.9L966.3 1227.4L967.6 1228.9L968.9 1230.4L970.3 1231.9L971.6 1233.4L973.0 1234.8L974.3 1236.3L975.7 1237.7L977.1 1239.1L978.6 1240.5L980.0 1241.9L981.5 1243.3L982.9 1244.7L984.5 1246.0L986.0 1247.3L987.5 1248.6L989.1 1249.7L990.8 1250.9L992.4 1251.9L994.1 1253.0L995.9 1254.0L997.6 1255.0L999.4 1256.0L1001.1 1257.0L1002.9 1257.9L1004.6 1258.9L1006.4 1259.9L1008.2 1260.8L1010.0 1261.7L1011.8 1262.5L1013.6 1263.2L1015.5 1263.9L1017.4 1264.5L1019.3 1265.1L1021.2 1265.6L1023.2 1266.2L1025.1 1266.7L1027.1 1267.2L1029.0 1267.6L1031.0 1268.1L1033.0 1268.5L1034.9 1268.8L1036.9 1269.2L1038.9 1269.5L1040.8 1269.7L1042.8 1270.0L1044.8 1270.2L1046.8 1270.5L1048.8 1270.7L1050.8 1270.9L1052.8 1271.1L1054.8 1271.2L1056.8 1271.4L1058.8 1271.6L1060.8 1271.7L1062.8 1271.9L1064.8 1272.0L1066.8 1272.1L1068.8 1272.2L1070.8 1272.3L1072.8 1272.4L1074.8 1272.4L1076.8 1272.5L1078.8 1272.6L1080.8 1272.7L1082.8 1272.8L1084.7 1272.9L1086.7 1273.0L1088.7 1273.1L1090.7 1273.3L1092.7 1273.6L1094.7 1273.8L1096.6 1274.1L1098.6 1274.5L1100.6 1274.8L1102.6 1275.2L1104.5 1275.6L1106.5 1275.9L1108.5 1276.2L1110.5 1276.5L1112.4 1276.8L1114.4 1277.1L1116.4 1277.3L1118.4 1277.5L1120.4 1277.8L1122.4 1278.0L1124.4 1278.2L1126.4 1278.4L1128.4 1278.6L1130.3 1278.8L1132.3 1279.0L1134.3 1279.2L1136.3 1279.3L1138.3 1279.4L1140.3 1279.5L1142.3 1279.6L1144.3 1279.8L1146.3 1279.9L1148.3 1280.0L1150.3 1280.1L1152.3 1280.2L1154.3 1280.2L1156.3 1280.3L1158.3 1280.4L1160.3 1280.5L1162.3 1280.6L1164.3 1280.7L1166.3 1280.7L1168.3 1280.8L1170.3 1280.9L1172.3 1280.9L1174.3 1281.0L1176.3 1281.1L1178.3 1281.1L1180.3 1281.2L1182.3 1281.2L1184.3 1281.3L1186.3 1281.3L1188.3 1281.4L1190.3 1281.4L1192.3 1281.5L1194.3 1281.5L1196.3 1281.6L1198.3 1281.6L1200.3 1281.7L1202.3 1281.7L1204.3 1281.7L1206.3 1281.8L1208.3 1281.8L1210.3 1281.9L1212.3 1281.9L1214.3 1281.9L1216.3 1281.9L1218.3 1282.0L1220.3 1282.0L1222.3 1282.0L1224.3 1282.0L1226.3 1282.0L1228.3 1282.0L1230.3 1282.0L1232.3 1282.0L1234.3 1282.0L1236.3 1282.0L1238.3 1282.0L1240.3 1282.0L1242.3 1282.0L1244.3 1282.0L1246.3 1282.0L1248.3 1282.0L1250.3 1282.0L1252.3 1282.0L1254.3 1282.0L1256.3 1282.0L1258.3 1282.0L1260.3 1282.0L1262.3 1282.0L1264.3 1282.0L1266.3 1282.0L1268.3 1282.0L1270.3 1282.0L1272.3 1282.0L1274.3 1282.0L1276.3 1282.0L1278.3 1282.0L1280.3 1282.0L1282.3 1282.0L1284.3 1282.0L1286.3 1282.0L1288.3 1282.0L1290.3 1282.0L1292.3 1282.0L1294.3 1282.0L1296.3 1282.0L1298.3 1282.0L1300.3 1282.0L1302.3 1282.0L1304.3 1282.0L1306.3 1282.0L1308.3 1282.0L1310.3 1282.0L1312.3 1282.0L1314.3 1282.0L1316.3 1282.0L1318.3 1282.0L1320.3 1282.0L1322.3 1282.0L1324.3 1282.0L1326.3 1282.0L1328.3 1282.0L1330.3 1282.0L1332.3 1282.0L1334.3 1282.0L1336.3 1282.0L1338.3 1282.0L1340.3 1282.0L1342.3 1282.0L1344.3 1282.0L1346.3 1282.0L1348.3 1282.0L1350.3 1282.0L1352.3 1282.0L1354.3 1282.0L1356.3 1282.0L1358.3 1282.0L1360.3 1282.0L1362.3 1282.0L1364.3 1282.0L1366.3 1282.0L1368.3 1282.0L1370.3 1282.0L1372.3 1282.0L1374.3 1282.0L1376.3 1282.0L1378.3 1282.0L1380.3 1282.0L1382.3 1282.0L1384.3 1282.0L1386.3 1282.0L1388.3 1282.0L1390.3 1282.0L1392.3 1282.0L1394.3 1282.0L1396.3 1282.0L1398.3 1282.0L1400.3 1282.0L1402.3 1282.0L1404.3 1282.0L1406.3 1282.0L1408.3 1282.0L1410.3 1282.0L1412.3 1282.0L1414.3 1282.0L1416.3 1282.0L1418.3 1282.0L1420.3 1282.0L1422.3 1282.0L1424.3 1282.0L1426.3 1282.0L1428.3 1282.0L1430.3 1282.0L1432.3 1282.0L1434.3 1282.0L1436.3 1282.0L1438.3 1282.0L1440.3 1282.0L1442.3 1282.0L1444.3 1282.0L1446.3 1282.0L1448.3 1282.0L1450.3 1282.0L1452.3 1282.0L1454.3 1282.0L1456.3 1282.0L1458.3 1282.0L1460.3 1282.0L1462.3 1282.0L1464.3 1282.0L1466.3 1282.0L1468.3 1282.0L1470.3 1282.0L1472.3 1282.0L1474.3 1282.0L1476.3 1282.0L1478.3 1282.0L1480.3 1282.0L1482.3 1282.0L1484.3 1282.0L1486.3 1282.0L1488.3 1282.0L1490.3 1282.0L1492.3 1282.0L1494.3 1282.0L1496.3 1282.0L1498.3 1282.0L1500.3 1282.0L1502.3 1282.0L1504.3 1282.0L1506.3 1282.0L1508.3 1282.0L1510.3 1282.0L1512.3 1282.0L1514.3 1282.0L1516.3 1282.0L1518.3 1282.0L1520.3 1282.0L1522.3 1282.0L1524.3 1282.0L1526.3 1282.0L1528.3 1282.0L1530.3 1282.0L1532.3 1282.0L1534.3 1282.0L1536.3 1282.0L1538.3 1282.0L1540.3 1282.0L1542.3 1282.0L1544.3 1282.0L1546.3 1282.0L1548.3 1282.0L1550.3 1282.0L1552.3 1282.0L1554.3 1282.0L1556.3 1282.0L1558.3 1282.0L1560.3 1282.0L1562.3 1282.0L1564.3 1282.0L1566.3 1282.0L1568.3 1282.0L1570.3 1282.0L1572.3 1282.0L1574.3 1282.0L1576.3 1282.0L1578.3 1282.0L1580.3 1282.0L1582.3 1282.0L1584.3 1282.0L1586.3 1282.0L1588.3 1282.0L1590.3 1282.0L1592.3 1282.0L1594.3 1282.0L1596.3 1282.0L1598.3 1282.0L1600.3 1282.0L1602.3 1282.0L1604.3 1282.0L1606.3 1282.0L1608.3 1282.0L1610.3 1282.0L1612.3 1282.0L1614.3 1282.0L1616.3 1282.0L1618.3 1282.0L1620.3 1282.0L1622.3 1282.0L1624.3 1282.0L1626.3 1282.0L1628.3 1282.0L1630.3 1282.0L1632.3 1282.0L1634.3 1282.0L1636.3 1282.0L1638.3 1282.0L1640.3 1282.0L1642.3 1282.0L1644.3 1282.0L1646.3 1282.0L1648.3 1282.0L1650.3 1282.0L1652.3 1282.0L1654.3 1282.0L1656.3 1282.0L1658.3 1282.0L1660.3 1282.0L1662.3 1282.0L1664.3 1282.0L1666.3 1282.0L1668.3 1282.0L1670.3 1282.0L1672.3 1282.0L1674.3 1282.0L1676.3 1282.0L1678.3 1282.0L1680.3 1282.0L1682.3 1282.0L1684.3 1282.0L1686.3 1282.0L1688.3 1282.0L1690.3 1282.0L1692.3 1282.0L1694.3 1282.0L1696.3 1282.0L1698.3 1282.0L1700.3 1282.0L1702.3 1282.0L1704.3 1282.0L1706.3 1282.0L1708.3 1282.0L1710.3 1282.0L1712.3 1282.0L1714.3 1282.0L1716.3 1282.0L1718.3 1282.0L1720.3 1282.0L1722.3 1282.0L1724.3 1282.0L1726.3 1282.0L1728.3 1282.0L1730.3 1282.0L1732.3 1282.0L1734.3 1282.0L1736.3 1282.0L1738.3 1282.0L1740.3 1282.0L1742.3 1282.0L1744.3 1282.0L1746.3 1282.0L1748.3 1282.0L1750.3 1282.0L1752.3 1282.0L1754.3 1282.0L1756.3 1282.0L1758.3 1282.0L1760.3 1282.0L1762.3 1282.0L1764.3 1282.0L1766.3 1282.0L1768.3 1282.0L1770.3 1282.0L1772.3 1282.0L1774.3 1282.0L1776.3 1282.0L1778.3 1282.0L1780.3 1282.0L1782.3 1282.0L1784.3 1282.0L1786.3 1282.0L1788.3 1282.0L1790.3 1282.0L1792.3 1282.0L1794.3 1282.0L1796.3 1282.0L1798.3 1282.0L1800.3 1282.0L1802.3 1282.0L1804.3 1282.0L1806.3 1282.0L1808.3 1282.0L1810.3 1282.0L1812.3 1282.0L1814.3 1282.0L1816.3 1282.0L1818.3 1282.0L1820.3 1282.0L1822.3 1282.0L1824.3 1282.0L1826.3 1282.0L1828.3 1282.0L1830.3 1282.0L1832.3 1282.0L1834.3 1282.0L1836.3 1282.0L1838.3 1282.0L1840.3 1282.0L1842.3 1282.0L1844.3 1282.0L1846.3 1282.0L1848.3 1282.0L1850.3 1282.0L1852.3 1282.0L1854.3 1282.0L1856.3 1282.0L1858.3 1282.0L1860.3 1282.0L1862.3 1282.0L1864.3 1282.0L1866.3 1282.0L1868.3 1282.0L1870.3 1282.0L1872.3 1282.0L1874.3 1282.0L1876.3 1282.0L1878.3 1282.0L1880.3 1282.0L1882.3 1282.0L1884.3 1282.0L1886.3 1282.0L1888.3 1282.0L1890.3 1282.0L1892.3 1282.0L1894.3 1282.0L1896.3 1282.0L1898.3 1282.0L1900.3 1282.0L1902.3 1282.0L1904.3 1282.0L1906.3 1282.0L1908.3 1282.0L1910.3 1282.0L1912.3 1282.0L1914.3 1282.0L1916.3 1282.0L1918.3 1282.0L1920.3 1282.0L1922.3 1282.0L1924.3 1282.0L1926.3 1282.0L1928.3 1282.0L1930.3 1282.0L1932.3 1282.0L1934.3 1282.0L1936.3 1282.0L1938.3 1282.0L1940.3 1282.0L1942.3 1282.0L1944.3 1282.0L1946.3 1282.0L1948.3 1282.0L1950.3 1282.0L1952.0 1282.0"/>
</g>
<g fill="#0000ff" shape-rendering="crispEdges"><rect x="1586" y="1277" width="9" height="1"/><rect x="1611" y="1277" width="9" height="1"/><rect x="1633" y="1277" width="5" height="1"/><rect x="1640" y="1277" width="7" height="1"/></g>
<g font-family="'Liberation Serif', 'Times New Roman', serif" font-weight="bold" font-size="64.5" fill="#000" style="font-kerning:none">
<text transform="translate(260.5 1300.0) scale(1 1.06)" text-anchor="end">0</text>
<text transform="translate(260.5 1177.7) scale(1 1.06)" text-anchor="end">10</text>
<text transform="translate(260.5 1055.4) scale(1 1.06)" text-anchor="end">20</text>
<text transform="translate(260.5 933.1) scale(1 1.06)" text-anchor="end">30</text>
<text transform="translate(260.5 810.8) scale(1 1.06)" text-anchor="end">40</text>
<text transform="translate(260.5 688.5) scale(1 1.06)" text-anchor="end">50</text>
<text transform="translate(260.5 566.2) scale(1 1.06)" text-anchor="end">60</text>
<text transform="translate(260.5 443.9) scale(1 1.06)" text-anchor="end">70</text>
<text transform="translate(260.5 321.6) scale(1 1.06)" text-anchor="end">80</text>
<text transform="translate(260.5 199.3) scale(1 1.06)" text-anchor="end">90</text>
<text transform="translate(260.5 77.0) scale(1 1.06)" text-anchor="end">100</text>
<text transform="translate(287.5 1358.5) scale(1.02 1.06)" text-anchor="middle">2.5</text>
<text transform="translate(453.8 1358.5) scale(1.02 1.06)" text-anchor="middle">3.0</text>
<text transform="translate(620.0 1358.5) scale(1.02 1.06)" text-anchor="middle">3.5</text>
<text transform="translate(786.2 1358.5) scale(1.02 1.06)" text-anchor="middle">4.0</text>
<text transform="translate(952.5 1358.5) scale(1.02 1.06)" text-anchor="middle">4.5</text>
<text transform="translate(1118.8 1358.5) scale(1.02 1.06)" text-anchor="middle">5.0</text>
<text transform="translate(1285.0 1358.5) scale(1.02 1.06)" text-anchor="middle">5.5</text>
<text transform="translate(1451.2 1358.5) scale(1.02 1.06)" text-anchor="middle">6.0</text>
<text transform="translate(1617.5 1358.5) scale(1.02 1.06)" text-anchor="middle">6.5</text>
<text transform="translate(1783.8 1358.5) scale(1.02 1.06)" text-anchor="middle">7.0</text>
<text transform="translate(1950.0 1358.5) scale(1.02 1.06)" text-anchor="middle">7.5</text>
</g>
<g font-family="'Liberation Serif', 'Times New Roman', serif" font-weight="bold" fill="#000" style="font-kerning:none">
<text x="730" y="1506.5" font-size="105">Wavelength <tspan dx="2.8">(</tspan><tspan dx="2" font-weight="normal" font-size="92" stroke="#000" stroke-width="4.5" stroke-linejoin="round" textLength="53" lengthAdjust="spacingAndGlyphs">μ</tspan><tspan dx="1.5">m</tspan><tspan dx="1">)</tspan></text>
<text transform="translate(108.3 701.5) rotate(-90) scale(1 1.04)" font-size="106.85" text-anchor="middle">Transmittance (%)</text>
</g>
<g shape-rendering="crispEdges">
<rect x="1367" y="161.8" width="147" height="7.5" fill="#000000"/>
<rect x="1367" y="262.8" width="147" height="7.5" fill="#ff0000"/>
<rect x="1367" y="342.2" width="147" height="7.5" fill="#0000ff"/>
<rect x="1367" y="422.2" width="147" height="7.5" fill="#008080"/>
</g>
<g font-family="'Liberation Serif', 'Times New Roman', serif" font-size="63.5" fill="#000" style="font-kerning:none">
<text transform="translate(1532 185.7) scale(1 1.025)">undoped VO</text>
<text transform="translate(1858 212) scale(0.96 1)" font-size="38.5">2</text>
<text transform="translate(1531 287) scale(1 1.025)">W-doped 3%</text>
<text transform="translate(1531 367) scale(1 1.025)">W-doped 4%</text>
<text transform="translate(1531 447) scale(1 1.025)">W-doped 5%</text>
</g>
</svg>
</body>
</html>
